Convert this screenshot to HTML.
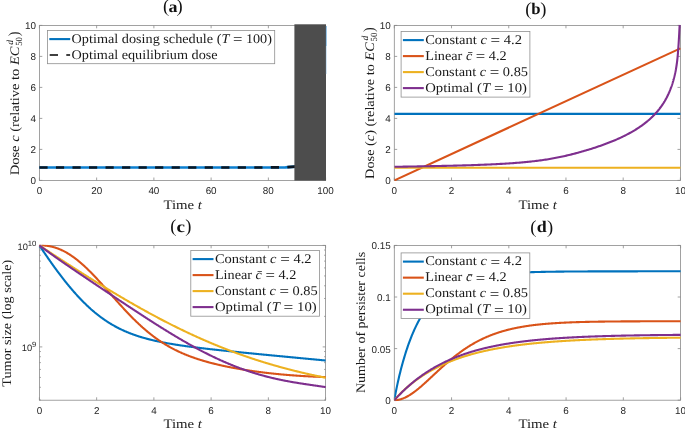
<!DOCTYPE html>
<html><head><meta charset="utf-8"><title>figure</title>
<style>html,body{margin:0;padding:0;background:#fff;overflow:hidden;}svg{display:block;will-change:transform;}</style>
</head><body>
<svg width="685" height="428" viewBox="0 0 685 428" text-rendering="geometricPrecision">
<rect x="0" y="0" width="685" height="428" fill="#ffffff"/>
<rect x="39.4" y="25.4" width="286.20000000000005" height="155.0" fill="#fff" stroke="#8a8a8a" stroke-width="0.8"/>
<path d="M39.40,180.4 v-2.9 M39.40,25.4 v2.9" stroke="#8a8a8a" stroke-width="0.8" fill="none"/>
<text x="39.40" y="194.00" font-family="Liberation Sans, sans-serif" font-size="9.9" text-anchor="middle" fill="#262626">0</text>
<path d="M96.64,180.4 v-2.9 M96.64,25.4 v2.9" stroke="#8a8a8a" stroke-width="0.8" fill="none"/>
<text x="96.64" y="194.00" font-family="Liberation Sans, sans-serif" font-size="9.9" text-anchor="middle" fill="#262626">20</text>
<path d="M153.88,180.4 v-2.9 M153.88,25.4 v2.9" stroke="#8a8a8a" stroke-width="0.8" fill="none"/>
<text x="153.88" y="194.00" font-family="Liberation Sans, sans-serif" font-size="9.9" text-anchor="middle" fill="#262626">40</text>
<path d="M211.12,180.4 v-2.9 M211.12,25.4 v2.9" stroke="#8a8a8a" stroke-width="0.8" fill="none"/>
<text x="211.12" y="194.00" font-family="Liberation Sans, sans-serif" font-size="9.9" text-anchor="middle" fill="#262626">60</text>
<path d="M268.36,180.4 v-2.9 M268.36,25.4 v2.9" stroke="#8a8a8a" stroke-width="0.8" fill="none"/>
<text x="268.36" y="194.00" font-family="Liberation Sans, sans-serif" font-size="9.9" text-anchor="middle" fill="#262626">80</text>
<path d="M325.60,180.4 v-2.9 M325.60,25.4 v2.9" stroke="#8a8a8a" stroke-width="0.8" fill="none"/>
<text x="325.60" y="194.00" font-family="Liberation Sans, sans-serif" font-size="9.9" text-anchor="middle" fill="#262626">100</text>
<path d="M39.4,180.40 h2.9 M325.6,180.40 h-2.9" stroke="#8a8a8a" stroke-width="0.8" fill="none"/>
<text x="35.90" y="184.45" font-family="Liberation Sans, sans-serif" font-size="9.9" text-anchor="end" fill="#262626">0</text>
<path d="M39.4,149.40 h2.9 M325.6,149.40 h-2.9" stroke="#8a8a8a" stroke-width="0.8" fill="none"/>
<text x="35.90" y="153.45" font-family="Liberation Sans, sans-serif" font-size="9.9" text-anchor="end" fill="#262626">2</text>
<path d="M39.4,118.40 h2.9 M325.6,118.40 h-2.9" stroke="#8a8a8a" stroke-width="0.8" fill="none"/>
<text x="35.90" y="122.45" font-family="Liberation Sans, sans-serif" font-size="9.9" text-anchor="end" fill="#262626">4</text>
<path d="M39.4,87.40 h2.9 M325.6,87.40 h-2.9" stroke="#8a8a8a" stroke-width="0.8" fill="none"/>
<text x="35.90" y="91.45" font-family="Liberation Sans, sans-serif" font-size="9.9" text-anchor="end" fill="#262626">6</text>
<path d="M39.4,56.40 h2.9 M325.6,56.40 h-2.9" stroke="#8a8a8a" stroke-width="0.8" fill="none"/>
<text x="35.90" y="60.45" font-family="Liberation Sans, sans-serif" font-size="9.9" text-anchor="end" fill="#262626">8</text>
<path d="M39.4,25.40 h2.9 M325.6,25.40 h-2.9" stroke="#8a8a8a" stroke-width="0.8" fill="none"/>
<text x="35.90" y="29.45" font-family="Liberation Sans, sans-serif" font-size="9.9" text-anchor="end" fill="#262626">10</text>
<path d="M39.40,167.50 L268.36,167.50 L285.53,167.30 L295.55,166.70" fill="none" stroke="#0b7fd0" stroke-width="2.7" stroke-linejoin="round" />
<path d="M39.40,167.50 L268.36,167.50 L285.53,167.30 L295.55,166.70" fill="none" stroke="#0a1622" stroke-width="2.7" stroke-linejoin="round" stroke-dasharray="8.2,8.33"/>
<rect x="294.4" y="24.3" width="31.60" height="156.30" fill="#4d4d4d"/>
<path d="M326.3,26 V46" stroke="#4a9ad4" stroke-width="0.7" fill="none"/><path d="M326.3,46 V74" stroke="#9cc4e4" stroke-width="0.6" fill="none"/>
<text x="163.00" y="12.00" font-family="Liberation Serif, serif" font-size="18.5" fill="#111" text-anchor="start">(</text>
<text x="182.60" y="12.00" font-family="Liberation Serif, serif" font-size="18.5" fill="#111" text-anchor="end">)</text>
<text x="168.60" y="11.50" font-family="Liberation Serif, serif" font-size="16.2" font-weight="bold" fill="#111" text-anchor="start" textLength="9.00" lengthAdjust="spacingAndGlyphs">a</text>
<text x="163.40" y="208.70" font-family="Liberation Serif, serif" font-size="13.0" text-anchor="start" fill="#1a1a1a"  textLength="38.60" lengthAdjust="spacingAndGlyphs">Time <tspan font-style="italic">t</tspan></text>
<g transform="translate(18.9,175.2) rotate(-90)">
<text x="0.00" y="0.00" font-family="Liberation Serif, serif" font-size="13.0" text-anchor="start" fill="#1a1a1a"  textLength="128.60" lengthAdjust="spacingAndGlyphs">Dose <tspan font-style="italic">c</tspan> (relative to <tspan font-style="italic">EC</tspan></text>
<text x="129.40" y="3.30" font-family="Liberation Serif, serif" font-size="9.4" text-anchor="start" fill="#1a1a1a"  textLength="8.80" lengthAdjust="spacingAndGlyphs">50</text>
<text x="130.40" y="-5.60" font-family="Liberation Serif, serif" font-size="9.2" text-anchor="start" fill="#1a1a1a"  textLength="4.80" lengthAdjust="spacingAndGlyphs"><tspan font-style="italic">d</tspan></text>
<text x="139.00" y="-0.20" font-family="Liberation Serif, serif" font-size="15.5" text-anchor="start" fill="#1a1a1a"  textLength="4.60" lengthAdjust="spacingAndGlyphs">)</text>
</g>
<rect x="47.5" y="30.4" width="227.2" height="33.300000000000004" fill="#fff" stroke="#8f8f8f" stroke-width="0.8"/>
<path d="M49.3,39.10 h20.9" stroke="#0072bd" stroke-width="2.1" fill="none"/>
<text x="71.60" y="42.60" font-family="Liberation Serif, serif" font-size="13.2" text-anchor="start" fill="#1a1a1a"  textLength="200.40" lengthAdjust="spacingAndGlyphs">Optimal dosing schedule (<tspan font-style="italic">T</tspan> <tspan font-size="15.5" dy="1.5">=</tspan><tspan dy="-1.5"> </tspan>100)</text>
<path d="M49.7,55.00 h8.3 M66.3,55.00 h3.8" stroke="#404040" stroke-width="2.0" fill="none"/>
<text x="71.60" y="58.50" font-family="Liberation Serif, serif" font-size="13.2" text-anchor="start" fill="#1a1a1a"  textLength="146.00" lengthAdjust="spacingAndGlyphs">Optimal equilibrium dose</text>
<rect x="394.3" y="25.4" width="286.09999999999997" height="155.0" fill="#fff" stroke="#8a8a8a" stroke-width="0.8"/>
<path d="M394.30,180.4 v-2.9 M394.30,25.4 v2.9" stroke="#8a8a8a" stroke-width="0.8" fill="none"/>
<text x="394.30" y="194.00" font-family="Liberation Sans, sans-serif" font-size="9.9" text-anchor="middle" fill="#262626">0</text>
<path d="M451.52,180.4 v-2.9 M451.52,25.4 v2.9" stroke="#8a8a8a" stroke-width="0.8" fill="none"/>
<text x="451.52" y="194.00" font-family="Liberation Sans, sans-serif" font-size="9.9" text-anchor="middle" fill="#262626">2</text>
<path d="M508.74,180.4 v-2.9 M508.74,25.4 v2.9" stroke="#8a8a8a" stroke-width="0.8" fill="none"/>
<text x="508.74" y="194.00" font-family="Liberation Sans, sans-serif" font-size="9.9" text-anchor="middle" fill="#262626">4</text>
<path d="M565.96,180.4 v-2.9 M565.96,25.4 v2.9" stroke="#8a8a8a" stroke-width="0.8" fill="none"/>
<text x="565.96" y="194.00" font-family="Liberation Sans, sans-serif" font-size="9.9" text-anchor="middle" fill="#262626">6</text>
<path d="M623.18,180.4 v-2.9 M623.18,25.4 v2.9" stroke="#8a8a8a" stroke-width="0.8" fill="none"/>
<text x="623.18" y="194.00" font-family="Liberation Sans, sans-serif" font-size="9.9" text-anchor="middle" fill="#262626">8</text>
<path d="M680.40,180.4 v-2.9 M680.40,25.4 v2.9" stroke="#8a8a8a" stroke-width="0.8" fill="none"/>
<text x="680.40" y="194.00" font-family="Liberation Sans, sans-serif" font-size="9.9" text-anchor="middle" fill="#262626">10</text>
<path d="M394.3,180.40 h2.9 M680.4,180.40 h-2.9" stroke="#8a8a8a" stroke-width="0.8" fill="none"/>
<text x="390.80" y="184.45" font-family="Liberation Sans, sans-serif" font-size="9.9" text-anchor="end" fill="#262626">0</text>
<path d="M394.3,149.40 h2.9 M680.4,149.40 h-2.9" stroke="#8a8a8a" stroke-width="0.8" fill="none"/>
<text x="390.80" y="153.45" font-family="Liberation Sans, sans-serif" font-size="9.9" text-anchor="end" fill="#262626">2</text>
<path d="M394.3,118.40 h2.9 M680.4,118.40 h-2.9" stroke="#8a8a8a" stroke-width="0.8" fill="none"/>
<text x="390.80" y="122.45" font-family="Liberation Sans, sans-serif" font-size="9.9" text-anchor="end" fill="#262626">4</text>
<path d="M394.3,87.40 h2.9 M680.4,87.40 h-2.9" stroke="#8a8a8a" stroke-width="0.8" fill="none"/>
<text x="390.80" y="91.45" font-family="Liberation Sans, sans-serif" font-size="9.9" text-anchor="end" fill="#262626">6</text>
<path d="M394.3,56.40 h2.9 M680.4,56.40 h-2.9" stroke="#8a8a8a" stroke-width="0.8" fill="none"/>
<text x="390.80" y="60.45" font-family="Liberation Sans, sans-serif" font-size="9.9" text-anchor="end" fill="#262626">8</text>
<path d="M394.3,25.40 h2.9 M680.4,25.40 h-2.9" stroke="#8a8a8a" stroke-width="0.8" fill="none"/>
<text x="390.80" y="29.45" font-family="Liberation Sans, sans-serif" font-size="9.9" text-anchor="end" fill="#262626">10</text>
<clipPath id="cb"><rect x="394.3" y="24.9" width="286.9" height="156.0"/></clipPath><g clip-path="url(#cb)">
<path d="M394.30,113.91 L680.40,113.91" fill="none" stroke="#0072bd" stroke-width="2.1" stroke-linejoin="round" />
<path d="M394.30,180.40 L680.40,48.34" fill="none" stroke="#d95319" stroke-width="2.1" stroke-linejoin="round" />
<path d="M394.30,167.69 L680.40,167.69" fill="none" stroke="#edb120" stroke-width="2.1" stroke-linejoin="round" />
<path d="M394.30,166.82 L395.59,166.79 L396.89,166.77 L398.18,166.75 L399.48,166.73 L400.77,166.70 L402.06,166.68 L403.36,166.66 L404.65,166.64 L405.95,166.61 L407.24,166.59 L408.53,166.57 L409.83,166.54 L411.12,166.52 L412.41,166.50 L413.71,166.47 L415.00,166.45 L416.30,166.43 L417.59,166.40 L418.88,166.38 L420.18,166.36 L421.47,166.33 L422.77,166.31 L424.06,166.29 L425.35,166.26 L426.65,166.24 L427.94,166.21 L429.24,166.19 L430.53,166.16 L431.82,166.14 L433.12,166.11 L434.41,166.08 L435.71,166.06 L437.00,166.03 L438.29,166.00 L439.59,165.98 L440.88,165.95 L442.18,165.92 L443.47,165.89 L444.76,165.86 L446.06,165.83 L447.35,165.80 L448.64,165.77 L449.94,165.74 L451.23,165.71 L452.53,165.68 L453.82,165.65 L455.11,165.62 L456.41,165.58 L457.70,165.55 L459.00,165.52 L460.29,165.48 L461.58,165.44 L462.88,165.41 L464.17,165.37 L465.47,165.33 L466.76,165.30 L468.05,165.26 L469.35,165.22 L470.64,165.18 L471.94,165.13 L473.23,165.09 L474.52,165.05 L475.82,165.00 L477.11,164.96 L478.40,164.91 L479.70,164.86 L480.99,164.81 L482.29,164.76 L483.58,164.71 L484.87,164.66 L486.17,164.61 L487.46,164.55 L488.76,164.50 L490.05,164.44 L491.34,164.38 L492.64,164.32 L493.93,164.26 L495.23,164.19 L496.52,164.13 L497.81,164.06 L499.11,163.99 L500.40,163.92 L501.70,163.85 L502.99,163.77 L504.28,163.70 L505.58,163.62 L506.87,163.54 L508.16,163.45 L509.46,163.37 L510.75,163.28 L512.05,163.19 L513.34,163.10 L514.63,163.00 L515.93,162.90 L517.22,162.80 L518.52,162.70 L519.81,162.59 L521.10,162.48 L522.40,162.37 L523.69,162.25 L524.99,162.13 L526.28,162.01 L527.57,161.88 L528.87,161.75 L530.16,161.61 L531.46,161.47 L532.75,161.33 L534.04,161.18 L535.34,161.03 L536.63,160.87 L537.93,160.71 L539.22,160.55 L540.51,160.37 L541.81,160.20 L543.10,160.01 L544.39,159.83 L545.69,159.63 L546.98,159.43 L548.28,159.22 L549.57,159.01 L550.86,158.79 L552.16,158.56 L553.45,158.33 L554.75,158.09 L556.04,157.84 L557.33,157.59 L558.63,157.33 L559.92,157.06 L561.22,156.78 L562.51,156.50 L563.80,156.22 L565.10,155.92 L566.39,155.62 L567.69,155.32 L568.98,155.01 L570.27,154.69 L571.57,154.36 L572.86,154.04 L574.15,153.70 L575.45,153.36 L576.74,153.01 L578.04,152.66 L579.33,152.31 L580.62,151.95 L581.92,151.58 L583.21,151.21 L584.51,150.84 L585.80,150.46 L587.09,150.08 L588.39,149.69 L589.68,149.29 L590.98,148.89 L592.27,148.48 L593.56,148.07 L594.86,147.65 L596.15,147.23 L597.45,146.79 L598.74,146.36 L600.03,145.91 L601.33,145.46 L602.62,145.00 L603.91,144.53 L605.21,144.05 L606.50,143.57 L607.80,143.08 L609.09,142.58 L610.38,142.06 L611.68,141.55 L612.97,141.02 L614.27,140.48 L615.56,139.93 L616.85,139.36 L618.15,138.79 L619.44,138.21 L620.74,137.61 L622.03,137.00 L623.32,136.38 L624.62,135.74 L625.91,135.09 L627.21,134.42 L628.50,133.74 L629.79,133.04 L631.09,132.32 L632.38,131.58 L633.68,130.82 L634.97,130.05 L636.26,129.25 L637.56,128.42 L638.85,127.58 L640.14,126.70 L641.44,125.80 L642.73,124.87 L644.03,123.91 L645.32,122.91 L646.61,121.88 L647.91,120.81 L649.20,119.69 L650.50,118.53 L651.79,117.33 L651.88,117.23 L651.98,117.14 L652.07,117.05 L652.17,116.96 L652.26,116.87 L652.36,116.78 L652.45,116.68 L652.55,116.59 L652.64,116.50 L652.74,116.41 L652.83,116.31 L652.93,116.22 L653.02,116.12 L653.12,116.03 L653.21,115.94 L653.31,115.84 L653.40,115.74 L653.50,115.65 L653.59,115.55 L653.68,115.46 L653.78,115.36 L653.87,115.26 L653.97,115.17 L654.06,115.07 L654.16,114.97 L654.25,114.87 L654.35,114.77 L654.44,114.67 L654.54,114.57 L654.63,114.47 L654.73,114.37 L654.82,114.27 L654.92,114.17 L655.01,114.07 L655.11,113.97 L655.20,113.87 L655.29,113.77 L655.39,113.66 L655.48,113.56 L655.58,113.46 L655.67,113.35 L655.77,113.25 L655.86,113.14 L655.96,113.04 L656.05,112.93 L656.15,112.83 L656.24,112.72 L656.34,112.62 L656.43,112.51 L656.53,112.40 L656.62,112.29 L656.72,112.19 L656.81,112.08 L656.91,111.97 L657.00,111.86 L657.09,111.75 L657.19,111.64 L657.28,111.53 L657.38,111.42 L657.47,111.30 L657.57,111.19 L657.66,111.08 L657.76,110.97 L657.85,110.85 L657.95,110.74 L658.04,110.63 L658.14,110.51 L658.23,110.40 L658.33,110.28 L658.42,110.16 L658.52,110.05 L658.61,109.93 L658.71,109.81 L658.80,109.69 L658.89,109.58 L658.99,109.46 L659.08,109.34 L659.18,109.22 L659.27,109.10 L659.37,108.98 L659.46,108.85 L659.56,108.73 L659.65,108.61 L659.75,108.49 L659.84,108.36 L659.94,108.24 L660.03,108.11 L660.13,107.99 L660.22,107.86 L660.32,107.74 L660.41,107.61 L660.51,107.48 L660.60,107.35 L660.69,107.22 L660.79,107.09 L660.88,106.96 L660.98,106.83 L661.07,106.70 L661.17,106.57 L661.26,106.44 L661.36,106.30 L661.45,106.17 L661.55,106.04 L661.64,105.90 L661.74,105.77 L661.83,105.63 L661.93,105.49 L662.02,105.35 L662.12,105.22 L662.21,105.08 L662.30,104.94 L662.40,104.80 L662.49,104.66 L662.59,104.51 L662.68,104.37 L662.78,104.23 L662.87,104.09 L662.97,103.94 L663.06,103.80 L663.16,103.65 L663.25,103.50 L663.35,103.35 L663.44,103.21 L663.54,103.06 L663.63,102.91 L663.73,102.76 L663.82,102.60 L663.92,102.45 L664.01,102.30 L664.10,102.14 L664.20,101.99 L664.29,101.83 L664.39,101.68 L664.48,101.52 L664.58,101.36 L664.67,101.20 L664.77,101.04 L664.86,100.88 L664.96,100.72 L665.05,100.55 L665.15,100.39 L665.24,100.22 L665.34,100.06 L665.43,99.89 L665.53,99.72 L665.62,99.55 L665.72,99.38 L665.81,99.21 L665.90,99.04 L666.00,98.87 L666.09,98.69 L666.19,98.52 L666.28,98.34 L666.38,98.17 L666.47,97.99 L666.57,97.81 L666.66,97.63 L666.76,97.44 L666.85,97.26 L666.95,97.08 L667.04,96.89 L667.14,96.70 L667.23,96.51 L667.33,96.33 L667.42,96.13 L667.51,95.94 L667.61,95.75 L667.70,95.55 L667.80,95.36 L667.89,95.16 L667.99,94.96 L668.08,94.76 L668.18,94.56 L668.27,94.36 L668.37,94.15 L668.46,93.95 L668.56,93.74 L668.65,93.53 L668.75,93.32 L668.84,93.11 L668.94,92.89 L669.03,92.68 L669.13,92.46 L669.22,92.24 L669.31,92.02 L669.41,91.80 L669.50,91.57 L669.60,91.35 L669.69,91.12 L669.79,90.89 L669.88,90.66 L669.98,90.42 L670.07,90.19 L670.17,89.95 L670.26,89.71 L670.36,89.47 L670.45,89.22 L670.55,88.98 L670.64,88.73 L670.74,88.48 L670.83,88.22 L670.93,87.97 L671.02,87.71 L671.11,87.45 L671.21,87.19 L671.30,86.93 L671.40,86.66 L671.49,86.39 L671.59,86.12 L671.68,85.84 L671.78,85.56 L671.87,85.28 L671.97,85.00 L672.06,84.71 L672.16,84.42 L672.25,84.13 L672.35,83.83 L672.44,83.53 L672.54,83.23 L672.63,82.93 L672.73,82.62 L672.82,82.31 L672.91,81.99 L673.01,81.67 L673.10,81.35 L673.20,81.02 L673.29,80.69 L673.39,80.35 L673.48,80.01 L673.58,79.67 L673.67,79.32 L673.77,78.97 L673.86,78.62 L673.96,78.25 L674.05,77.89 L674.15,77.52 L674.24,77.14 L674.34,76.76 L674.43,76.37 L674.52,75.98 L674.62,75.58 L674.71,75.18 L674.81,74.77 L674.90,74.35 L675.00,73.93 L675.09,73.49 L675.19,73.05 L675.28,72.60 L675.38,72.14 L675.47,71.68 L675.57,71.20 L675.66,70.71 L675.76,70.21 L675.85,69.70 L675.95,69.18 L676.04,68.64 L676.14,68.09 L676.23,67.53 L676.32,66.94 L676.42,66.35 L676.51,65.73 L676.61,65.09 L676.70,64.44 L676.80,63.76 L676.89,63.06 L676.99,62.33 L677.08,61.58 L677.18,60.80 L677.27,59.98 L677.37,59.13 L677.46,58.25 L677.56,57.32 L677.65,56.36 L677.75,55.35 L677.84,54.29 L677.94,53.19 L678.03,52.04 L678.12,50.84 L678.22,49.60 L678.31,48.30 L678.41,46.95 L678.50,45.54 L678.60,44.09 L678.69,42.57 L678.79,41.01 L678.88,39.39 L678.98,37.73 L679.07,36.01 L679.17,34.26 L679.26,32.47 L679.36,30.67 L679.45,28.85 L679.55,27.05 L679.64,25.30 L679.73,23.63 L679.83,22.13 L679.92,20.86 L680.02,19.97 L680.11,19.66" fill="none" stroke="#7e2f8e" stroke-width="2.1" stroke-linejoin="round" />
</g>
<text x="525.20" y="14.70" font-family="Liberation Serif, serif" font-size="18.5" fill="#111" text-anchor="start">(</text>
<text x="546.40" y="14.70" font-family="Liberation Serif, serif" font-size="18.5" fill="#111" text-anchor="end">)</text>
<text x="531.20" y="14.20" font-family="Liberation Serif, serif" font-size="16.2" font-weight="bold" fill="#111" text-anchor="start" textLength="9.30" lengthAdjust="spacingAndGlyphs">b</text>
<text x="518.40" y="208.70" font-family="Liberation Serif, serif" font-size="13.0" text-anchor="start" fill="#1a1a1a"  textLength="38.60" lengthAdjust="spacingAndGlyphs">Time <tspan font-style="italic">t</tspan></text>
<g transform="translate(373.9,178.9) rotate(-90)">
<text x="0.00" y="0.00" font-family="Liberation Serif, serif" font-size="13.0" text-anchor="start" fill="#1a1a1a"  textLength="136.60" lengthAdjust="spacingAndGlyphs">Dose (<tspan font-style="italic">c</tspan>) (relative to <tspan font-style="italic">EC</tspan></text>
<text x="137.40" y="3.30" font-family="Liberation Serif, serif" font-size="9.4" text-anchor="start" fill="#1a1a1a"  textLength="8.80" lengthAdjust="spacingAndGlyphs">50</text>
<text x="138.40" y="-5.60" font-family="Liberation Serif, serif" font-size="9.2" text-anchor="start" fill="#1a1a1a"  textLength="4.80" lengthAdjust="spacingAndGlyphs"><tspan font-style="italic">d</tspan></text>
<text x="147.00" y="-0.20" font-family="Liberation Serif, serif" font-size="15.5" text-anchor="start" fill="#1a1a1a"  textLength="4.60" lengthAdjust="spacingAndGlyphs">)</text>
</g>
<rect x="401.1" y="31.5" width="128.79999999999995" height="65.6" fill="#fff" stroke="#8f8f8f" stroke-width="0.8"/>
<path d="M402.90000000000003,40.10 h20.9" stroke="#0072bd" stroke-width="2.1" fill="none"/>
<text x="425.20" y="43.60" font-family="Liberation Serif, serif" font-size="13.2" text-anchor="start" fill="#1a1a1a"  textLength="96.70" lengthAdjust="spacingAndGlyphs">Constant <tspan font-style="italic">c</tspan> <tspan font-size="15.5" dy="1.5">=</tspan><tspan dy="-1.5"> </tspan>4.2</text>
<path d="M402.90000000000003,56.10 h20.9" stroke="#d95319" stroke-width="2.1" fill="none"/>
<text x="425.20" y="59.60" font-family="Liberation Serif, serif" font-size="13.2" text-anchor="start" fill="#1a1a1a"  textLength="81.40" lengthAdjust="spacingAndGlyphs">Linear <tspan font-style="italic">c&#x0304;</tspan> <tspan font-size="15.5" dy="1.5">=</tspan><tspan dy="-1.5"> </tspan>4.2</text>
<path d="M402.90000000000003,72.10 h20.9" stroke="#edb120" stroke-width="2.1" fill="none"/>
<text x="425.20" y="75.60" font-family="Liberation Serif, serif" font-size="13.2" text-anchor="start" fill="#1a1a1a"  textLength="102.80" lengthAdjust="spacingAndGlyphs">Constant <tspan font-style="italic">c</tspan> <tspan font-size="15.5" dy="1.5">=</tspan><tspan dy="-1.5"> </tspan>0.85</text>
<path d="M402.90000000000003,88.10 h20.9" stroke="#7e2f8e" stroke-width="2.1" fill="none"/>
<text x="425.20" y="91.60" font-family="Liberation Serif, serif" font-size="13.2" text-anchor="start" fill="#1a1a1a"  textLength="101.80" lengthAdjust="spacingAndGlyphs">Optimal (<tspan font-style="italic">T</tspan> <tspan font-size="15.5" dy="1.5">=</tspan><tspan dy="-1.5"> </tspan>10)</text>
<rect x="39.4" y="245.4" width="286.20000000000005" height="154.79999999999998" fill="#fff" stroke="#8a8a8a" stroke-width="0.8"/>
<path d="M39.40,400.2 v-2.9 M39.40,245.4 v2.9" stroke="#8a8a8a" stroke-width="0.8" fill="none"/>
<text x="39.40" y="413.80" font-family="Liberation Sans, sans-serif" font-size="9.9" text-anchor="middle" fill="#262626">0</text>
<path d="M96.64,400.2 v-2.9 M96.64,245.4 v2.9" stroke="#8a8a8a" stroke-width="0.8" fill="none"/>
<text x="96.64" y="413.80" font-family="Liberation Sans, sans-serif" font-size="9.9" text-anchor="middle" fill="#262626">2</text>
<path d="M153.88,400.2 v-2.9 M153.88,245.4 v2.9" stroke="#8a8a8a" stroke-width="0.8" fill="none"/>
<text x="153.88" y="413.80" font-family="Liberation Sans, sans-serif" font-size="9.9" text-anchor="middle" fill="#262626">4</text>
<path d="M211.12,400.2 v-2.9 M211.12,245.4 v2.9" stroke="#8a8a8a" stroke-width="0.8" fill="none"/>
<text x="211.12" y="413.80" font-family="Liberation Sans, sans-serif" font-size="9.9" text-anchor="middle" fill="#262626">6</text>
<path d="M268.36,400.2 v-2.9 M268.36,245.4 v2.9" stroke="#8a8a8a" stroke-width="0.8" fill="none"/>
<text x="268.36" y="413.80" font-family="Liberation Sans, sans-serif" font-size="9.9" text-anchor="middle" fill="#262626">8</text>
<path d="M325.60,400.2 v-2.9 M325.60,245.4 v2.9" stroke="#8a8a8a" stroke-width="0.8" fill="none"/>
<text x="325.60" y="413.80" font-family="Liberation Sans, sans-serif" font-size="9.9" text-anchor="middle" fill="#262626">10</text>
<path d="M39.4,245.40 h2.9 M325.6,245.40 h-2.9" stroke="#8a8a8a" stroke-width="0.8" fill="none"/>
<text x="36.40" y="249.80" font-family="Liberation Sans, sans-serif" font-size="9.3" text-anchor="end" fill="#262626">10<tspan font-size="7.7" dy="-3.9">10</tspan></text>
<path d="M39.4,346.90 h2.9 M325.6,346.90 h-2.9" stroke="#8a8a8a" stroke-width="0.8" fill="none"/>
<text x="36.40" y="351.30" font-family="Liberation Sans, sans-serif" font-size="9.3" text-anchor="end" fill="#262626">10<tspan font-size="7.7" dy="-3.9">9</tspan></text>
<path d="M39.4,399.97 h1.5 M325.6,399.97 h-1.5" stroke="#8a8a8a" stroke-width="0.8" fill="none"/>
<path d="M39.4,387.29 h1.5 M325.6,387.29 h-1.5" stroke="#8a8a8a" stroke-width="0.8" fill="none"/>
<path d="M39.4,377.45 h1.5 M325.6,377.45 h-1.5" stroke="#8a8a8a" stroke-width="0.8" fill="none"/>
<path d="M39.4,369.42 h1.5 M325.6,369.42 h-1.5" stroke="#8a8a8a" stroke-width="0.8" fill="none"/>
<path d="M39.4,362.62 h1.5 M325.6,362.62 h-1.5" stroke="#8a8a8a" stroke-width="0.8" fill="none"/>
<path d="M39.4,356.74 h1.5 M325.6,356.74 h-1.5" stroke="#8a8a8a" stroke-width="0.8" fill="none"/>
<path d="M39.4,351.54 h1.5 M325.6,351.54 h-1.5" stroke="#8a8a8a" stroke-width="0.8" fill="none"/>
<path d="M39.4,316.35 h1.5 M325.6,316.35 h-1.5" stroke="#8a8a8a" stroke-width="0.8" fill="none"/>
<path d="M39.4,298.47 h1.5 M325.6,298.47 h-1.5" stroke="#8a8a8a" stroke-width="0.8" fill="none"/>
<path d="M39.4,285.79 h1.5 M325.6,285.79 h-1.5" stroke="#8a8a8a" stroke-width="0.8" fill="none"/>
<path d="M39.4,275.95 h1.5 M325.6,275.95 h-1.5" stroke="#8a8a8a" stroke-width="0.8" fill="none"/>
<path d="M39.4,267.92 h1.5 M325.6,267.92 h-1.5" stroke="#8a8a8a" stroke-width="0.8" fill="none"/>
<path d="M39.4,261.12 h1.5 M325.6,261.12 h-1.5" stroke="#8a8a8a" stroke-width="0.8" fill="none"/>
<path d="M39.4,255.24 h1.5 M325.6,255.24 h-1.5" stroke="#8a8a8a" stroke-width="0.8" fill="none"/>
<path d="M39.4,250.04 h1.5 M325.6,250.04 h-1.5" stroke="#8a8a8a" stroke-width="0.8" fill="none"/>
<clipPath id="cc"><rect x="38.9" y="244.8" width="287.40000000000003" height="155.79999999999998"/></clipPath><g clip-path="url(#cc)">
<path d="M39.40,245.40 L39.88,246.12 L40.36,246.84 L40.83,247.55 L41.31,248.27 L41.79,248.98 L42.27,249.69 L42.74,250.40 L43.22,251.11 L43.70,251.82 L44.18,252.52 L44.66,253.23 L45.13,253.93 L45.61,254.63 L46.09,255.32 L46.57,256.02 L47.04,256.71 L47.52,257.40 L48.00,258.09 L48.48,258.78 L48.96,259.46 L49.43,260.15 L49.91,260.83 L50.39,261.51 L50.87,262.18 L51.34,262.86 L51.82,263.53 L52.30,264.20 L52.78,264.87 L53.26,265.53 L53.73,266.20 L54.21,266.86 L54.69,267.51 L55.17,268.17 L55.65,268.83 L56.12,269.48 L56.60,270.13 L57.08,270.77 L57.56,271.42 L58.03,272.06 L58.51,272.70 L58.99,273.33 L59.47,273.97 L59.95,274.60 L60.42,275.23 L60.90,275.85 L61.38,276.48 L61.86,277.10 L62.33,277.72 L62.81,278.33 L63.29,278.95 L63.77,279.56 L64.25,280.16 L64.72,280.77 L65.20,281.37 L65.68,281.97 L66.16,282.56 L66.63,283.16 L67.11,283.75 L67.59,284.33 L68.07,284.92 L68.55,285.50 L69.02,286.08 L69.50,286.65 L69.98,287.23 L70.46,287.79 L70.93,288.36 L71.41,288.92 L71.89,289.48 L72.37,290.04 L72.85,290.59 L73.32,291.14 L73.80,291.69 L74.28,292.24 L74.76,292.78 L75.23,293.31 L75.71,293.85 L76.19,294.38 L76.67,294.91 L77.15,295.43 L77.62,295.95 L78.10,296.47 L78.58,296.99 L79.06,297.50 L79.53,298.00 L80.01,298.51 L80.49,299.01 L80.97,299.51 L81.45,300.00 L81.92,300.49 L82.40,300.98 L82.88,301.47 L83.36,301.95 L83.84,302.43 L84.31,302.90 L84.79,303.37 L85.27,303.84 L85.75,304.30 L86.22,304.76 L86.70,305.22 L87.18,305.67 L87.66,306.12 L88.14,306.57 L88.61,307.01 L89.09,307.45 L89.57,307.89 L90.05,308.32 L90.52,308.75 L91.00,309.17 L91.48,309.60 L91.96,310.01 L92.44,310.43 L92.91,310.84 L93.39,311.25 L93.87,311.66 L94.35,312.06 L94.82,312.46 L95.30,312.85 L95.78,313.24 L96.26,313.63 L96.74,314.01 L97.21,314.39 L97.69,314.77 L98.17,315.15 L98.65,315.52 L99.12,315.88 L99.60,316.25 L100.08,316.61 L100.56,316.97 L101.04,317.32 L101.51,317.67 L101.99,318.02 L102.47,318.36 L102.95,318.70 L103.42,319.04 L103.90,319.38 L104.38,319.71 L104.86,320.04 L105.34,320.36 L105.81,320.68 L106.29,321.00 L106.77,321.32 L107.25,321.63 L107.72,321.94 L108.20,322.24 L108.68,322.55 L109.16,322.85 L109.64,323.14 L110.11,323.44 L110.59,323.73 L111.07,324.02 L111.55,324.30 L112.03,324.58 L112.50,324.86 L112.98,325.14 L113.46,325.41 L113.94,325.68 L114.41,325.95 L114.89,326.22 L115.37,326.48 L115.85,326.74 L116.33,326.99 L116.80,327.25 L117.28,327.50 L117.76,327.75 L118.24,327.99 L118.71,328.24 L119.19,328.48 L119.67,328.71 L120.15,328.95 L120.63,329.18 L121.10,329.41 L121.58,329.64 L122.06,329.87 L122.54,330.09 L123.01,330.31 L123.49,330.53 L123.97,330.74 L124.45,330.96 L124.93,331.17 L125.40,331.38 L125.88,331.58 L126.36,331.79 L126.84,331.99 L127.31,332.19 L127.79,332.39 L128.27,332.58 L128.75,332.77 L129.23,332.97 L129.70,333.15 L130.18,333.34 L130.66,333.53 L131.14,333.71 L131.61,333.89 L132.09,334.07 L132.57,334.25 L133.05,334.42 L133.53,334.59 L134.00,334.76 L134.48,334.93 L134.96,335.10 L135.44,335.27 L135.91,335.43 L136.39,335.59 L136.87,335.75 L137.35,335.91 L137.83,336.07 L138.30,336.22 L138.78,336.38 L139.26,336.53 L139.74,336.68 L140.22,336.83 L140.69,336.98 L141.17,337.12 L141.65,337.27 L142.13,337.41 L142.60,337.55 L143.08,337.69 L143.56,337.83 L144.04,337.96 L144.52,338.10 L144.99,338.23 L145.47,338.36 L145.95,338.49 L146.43,338.62 L146.90,338.75 L147.38,338.88 L147.86,339.01 L148.34,339.13 L148.82,339.25 L149.29,339.37 L149.77,339.50 L150.25,339.61 L150.73,339.73 L151.20,339.85 L151.68,339.97 L152.16,340.08 L152.64,340.19 L153.12,340.31 L153.59,340.42 L154.07,340.53 L154.55,340.64 L155.03,340.75 L155.50,340.85 L155.98,340.96 L156.46,341.07 L156.94,341.17 L157.42,341.27 L157.89,341.38 L158.37,341.48 L158.85,341.58 L159.33,341.68 L159.80,341.78 L160.28,341.88 L160.76,341.97 L161.24,342.07 L161.72,342.16 L162.19,342.26 L162.67,342.35 L163.15,342.44 L163.63,342.54 L164.10,342.63 L164.58,342.72 L165.06,342.81 L165.54,342.90 L166.02,342.99 L166.49,343.07 L166.97,343.16 L167.45,343.25 L167.93,343.33 L168.41,343.42 L168.88,343.50 L169.36,343.58 L169.84,343.67 L170.32,343.75 L170.79,343.83 L171.27,343.91 L171.75,343.99 L172.23,344.07 L172.71,344.15 L173.18,344.23 L173.66,344.31 L174.14,344.39 L174.62,344.46 L175.09,344.54 L175.57,344.62 L176.05,344.69 L176.53,344.77 L177.01,344.84 L177.48,344.91 L177.96,344.99 L178.44,345.06 L178.92,345.13 L179.39,345.20 L179.87,345.28 L180.35,345.35 L180.83,345.42 L181.31,345.49 L181.78,345.56 L182.26,345.63 L182.74,345.70 L183.22,345.76 L183.69,345.83 L184.17,345.90 L184.65,345.97 L185.13,346.03 L185.61,346.10 L186.08,346.17 L186.56,346.23 L187.04,346.30 L187.52,346.36 L187.99,346.43 L188.47,346.49 L188.95,346.56 L189.43,346.62 L189.91,346.68 L190.38,346.75 L190.86,346.81 L191.34,346.87 L191.82,346.93 L192.29,347.00 L192.77,347.06 L193.25,347.12 L193.73,347.18 L194.21,347.24 L194.68,347.30 L195.16,347.36 L195.64,347.42 L196.12,347.48 L196.59,347.54 L197.07,347.60 L197.55,347.66 L198.03,347.72 L198.51,347.78 L198.98,347.83 L199.46,347.89 L199.94,347.95 L200.42,348.01 L200.90,348.07 L201.37,348.12 L201.85,348.18 L202.33,348.24 L202.81,348.29 L203.28,348.35 L203.76,348.41 L204.24,348.46 L204.72,348.52 L205.20,348.57 L205.67,348.63 L206.15,348.68 L206.63,348.74 L207.11,348.79 L207.58,348.85 L208.06,348.90 L208.54,348.96 L209.02,349.01 L209.50,349.06 L209.97,349.12 L210.45,349.17 L210.93,349.23 L211.41,349.28 L211.88,349.33 L212.36,349.39 L212.84,349.44 L213.32,349.49 L213.80,349.54 L214.27,349.60 L214.75,349.65 L215.23,349.70 L215.71,349.75 L216.18,349.81 L216.66,349.86 L217.14,349.91 L217.62,349.96 L218.10,350.01 L218.57,350.06 L219.05,350.12 L219.53,350.17 L220.01,350.22 L220.48,350.27 L220.96,350.32 L221.44,350.37 L221.92,350.42 L222.40,350.47 L222.87,350.52 L223.35,350.57 L223.83,350.62 L224.31,350.67 L224.78,350.72 L225.26,350.77 L225.74,350.82 L226.22,350.87 L226.70,350.92 L227.17,350.97 L227.65,351.02 L228.13,351.07 L228.61,351.12 L229.09,351.17 L229.56,351.22 L230.04,351.27 L230.52,351.32 L231.00,351.37 L231.47,351.42 L231.95,351.47 L232.43,351.51 L232.91,351.56 L233.39,351.61 L233.86,351.66 L234.34,351.71 L234.82,351.76 L235.30,351.81 L235.77,351.85 L236.25,351.90 L236.73,351.95 L237.21,352.00 L237.69,352.05 L238.16,352.10 L238.64,352.14 L239.12,352.19 L239.60,352.24 L240.07,352.29 L240.55,352.34 L241.03,352.38 L241.51,352.43 L241.99,352.48 L242.46,352.53 L242.94,352.57 L243.42,352.62 L243.90,352.67 L244.37,352.72 L244.85,352.76 L245.33,352.81 L245.81,352.86 L246.29,352.91 L246.76,352.95 L247.24,353.00 L247.72,353.05 L248.20,353.09 L248.67,353.14 L249.15,353.19 L249.63,353.24 L250.11,353.28 L250.59,353.33 L251.06,353.38 L251.54,353.42 L252.02,353.47 L252.50,353.52 L252.97,353.56 L253.45,353.61 L253.93,353.66 L254.41,353.70 L254.89,353.75 L255.36,353.80 L255.84,353.84 L256.32,353.89 L256.80,353.94 L257.28,353.98 L257.75,354.03 L258.23,354.08 L258.71,354.12 L259.19,354.17 L259.66,354.22 L260.14,354.26 L260.62,354.31 L261.10,354.36 L261.58,354.40 L262.05,354.45 L262.53,354.49 L263.01,354.54 L263.49,354.59 L263.96,354.63 L264.44,354.68 L264.92,354.73 L265.40,354.77 L265.88,354.82 L266.35,354.86 L266.83,354.91 L267.31,354.96 L267.79,355.00 L268.26,355.05 L268.74,355.09 L269.22,355.14 L269.70,355.19 L270.18,355.23 L270.65,355.28 L271.13,355.32 L271.61,355.37 L272.09,355.42 L272.56,355.46 L273.04,355.51 L273.52,355.55 L274.00,355.60 L274.48,355.64 L274.95,355.69 L275.43,355.74 L275.91,355.78 L276.39,355.83 L276.86,355.87 L277.34,355.92 L277.82,355.96 L278.30,356.01 L278.78,356.06 L279.25,356.10 L279.73,356.15 L280.21,356.19 L280.69,356.24 L281.16,356.28 L281.64,356.33 L282.12,356.38 L282.60,356.42 L283.08,356.47 L283.55,356.51 L284.03,356.56 L284.51,356.60 L284.99,356.65 L285.47,356.69 L285.94,356.74 L286.42,356.79 L286.90,356.83 L287.38,356.88 L287.85,356.92 L288.33,356.97 L288.81,357.01 L289.29,357.06 L289.77,357.10 L290.24,357.15 L290.72,357.20 L291.20,357.24 L291.68,357.29 L292.15,357.33 L292.63,357.38 L293.11,357.42 L293.59,357.47 L294.07,357.51 L294.54,357.56 L295.02,357.60 L295.50,357.65 L295.98,357.69 L296.45,357.74 L296.93,357.79 L297.41,357.83 L297.89,357.88 L298.37,357.92 L298.84,357.97 L299.32,358.01 L299.80,358.06 L300.28,358.10 L300.75,358.15 L301.23,358.19 L301.71,358.24 L302.19,358.28 L302.67,358.33 L303.14,358.37 L303.62,358.42 L304.10,358.46 L304.58,358.51 L305.05,358.55 L305.53,358.60 L306.01,358.65 L306.49,358.69 L306.97,358.74 L307.44,358.78 L307.92,358.83 L308.40,358.87 L308.88,358.92 L309.35,358.96 L309.83,359.01 L310.31,359.05 L310.79,359.10 L311.27,359.14 L311.74,359.19 L312.22,359.23 L312.70,359.28 L313.18,359.32 L313.66,359.37 L314.13,359.41 L314.61,359.46 L315.09,359.50 L315.57,359.55 L316.04,359.59 L316.52,359.64 L317.00,359.68 L317.48,359.73 L317.96,359.78 L318.43,359.82 L318.91,359.87 L319.39,359.91 L319.87,359.96 L320.34,360.00 L320.82,360.05 L321.30,360.09 L321.78,360.14 L322.26,360.18 L322.73,360.23 L323.21,360.27 L323.69,360.32 L324.17,360.36 L324.64,360.41 L325.12,360.45 L325.60,360.50" fill="none" stroke="#0072bd" stroke-width="2.1" stroke-linejoin="round" />
<path d="M39.40,244.68 L39.88,243.95 L40.36,243.09 L40.83,242.45 L41.31,242.40 L41.79,242.95 L42.27,243.81 L42.74,244.59 L43.22,245.10 L43.70,245.36 L44.18,245.47 L44.66,245.54 L45.13,245.58 L45.61,245.63 L46.09,245.68 L46.57,245.74 L47.04,245.80 L47.52,245.86 L48.00,245.94 L48.48,246.01 L48.96,246.09 L49.43,246.18 L49.91,246.27 L50.39,246.36 L50.87,246.46 L51.34,246.57 L51.82,246.68 L52.30,246.80 L52.78,246.92 L53.26,247.05 L53.73,247.18 L54.21,247.31 L54.69,247.46 L55.17,247.60 L55.65,247.76 L56.12,247.91 L56.60,248.08 L57.08,248.24 L57.56,248.42 L58.03,248.60 L58.51,248.78 L58.99,248.97 L59.47,249.16 L59.95,249.36 L60.42,249.57 L60.90,249.78 L61.38,249.99 L61.86,250.21 L62.33,250.44 L62.81,250.67 L63.29,250.90 L63.77,251.14 L64.25,251.39 L64.72,251.64 L65.20,251.90 L65.68,252.16 L66.16,252.43 L66.63,252.70 L67.11,252.98 L67.59,253.26 L68.07,253.54 L68.55,253.84 L69.02,254.13 L69.50,254.44 L69.98,254.74 L70.46,255.05 L70.93,255.37 L71.41,255.69 L71.89,256.02 L72.37,256.35 L72.85,256.69 L73.32,257.03 L73.80,257.37 L74.28,257.72 L74.76,258.08 L75.23,258.43 L75.71,258.80 L76.19,259.17 L76.67,259.54 L77.15,259.92 L77.62,260.30 L78.10,260.68 L78.58,261.07 L79.06,261.47 L79.53,261.87 L80.01,262.27 L80.49,262.68 L80.97,263.09 L81.45,263.50 L81.92,263.92 L82.40,264.34 L82.88,264.77 L83.36,265.20 L83.84,265.64 L84.31,266.07 L84.79,266.52 L85.27,266.96 L85.75,267.41 L86.22,267.86 L86.70,268.32 L87.18,268.78 L87.66,269.24 L88.14,269.70 L88.61,270.17 L89.09,270.64 L89.57,271.12 L90.05,271.60 L90.52,272.08 L91.00,272.56 L91.48,273.05 L91.96,273.53 L92.44,274.03 L92.91,274.52 L93.39,275.02 L93.87,275.52 L94.35,276.02 L94.82,276.52 L95.30,277.03 L95.78,277.54 L96.26,278.05 L96.74,278.56 L97.21,279.07 L97.69,279.59 L98.17,280.11 L98.65,280.63 L99.12,281.15 L99.60,281.67 L100.08,282.20 L100.56,282.72 L101.04,283.25 L101.51,283.78 L101.99,284.31 L102.47,284.84 L102.95,285.38 L103.42,285.91 L103.90,286.45 L104.38,286.98 L104.86,287.52 L105.34,288.06 L105.81,288.59 L106.29,289.13 L106.77,289.67 L107.25,290.21 L107.72,290.75 L108.20,291.29 L108.68,291.83 L109.16,292.38 L109.64,292.92 L110.11,293.46 L110.59,294.00 L111.07,294.54 L111.55,295.08 L112.03,295.62 L112.50,296.17 L112.98,296.71 L113.46,297.25 L113.94,297.79 L114.41,298.33 L114.89,298.87 L115.37,299.40 L115.85,299.94 L116.33,300.48 L116.80,301.02 L117.28,301.55 L117.76,302.09 L118.24,302.62 L118.71,303.15 L119.19,303.68 L119.67,304.21 L120.15,304.74 L120.63,305.27 L121.10,305.80 L121.58,306.32 L122.06,306.85 L122.54,307.37 L123.01,307.89 L123.49,308.41 L123.97,308.93 L124.45,309.44 L124.93,309.96 L125.40,310.47 L125.88,310.98 L126.36,311.49 L126.84,312.00 L127.31,312.50 L127.79,313.01 L128.27,313.51 L128.75,314.01 L129.23,314.51 L129.70,315.00 L130.18,315.49 L130.66,315.99 L131.14,316.47 L131.61,316.96 L132.09,317.45 L132.57,317.93 L133.05,318.41 L133.53,318.88 L134.00,319.36 L134.48,319.83 L134.96,320.30 L135.44,320.77 L135.91,321.23 L136.39,321.69 L136.87,322.15 L137.35,322.61 L137.83,323.06 L138.30,323.52 L138.78,323.96 L139.26,324.41 L139.74,324.85 L140.22,325.30 L140.69,325.73 L141.17,326.17 L141.65,326.60 L142.13,327.03 L142.60,327.46 L143.08,327.88 L143.56,328.30 L144.04,328.72 L144.52,329.14 L144.99,329.55 L145.47,329.96 L145.95,330.37 L146.43,330.77 L146.90,331.17 L147.38,331.57 L147.86,331.96 L148.34,332.36 L148.82,332.75 L149.29,333.13 L149.77,333.52 L150.25,333.90 L150.73,334.27 L151.20,334.65 L151.68,335.02 L152.16,335.39 L152.64,335.76 L153.12,336.12 L153.59,336.48 L154.07,336.84 L154.55,337.19 L155.03,337.54 L155.50,337.89 L155.98,338.24 L156.46,338.58 L156.94,338.92 L157.42,339.26 L157.89,339.59 L158.37,339.92 L158.85,340.25 L159.33,340.58 L159.80,340.90 L160.28,341.22 L160.76,341.54 L161.24,341.85 L161.72,342.16 L162.19,342.47 L162.67,342.78 L163.15,343.08 L163.63,343.38 L164.10,343.68 L164.58,343.98 L165.06,344.27 L165.54,344.56 L166.02,344.85 L166.49,345.13 L166.97,345.41 L167.45,345.69 L167.93,345.97 L168.41,346.25 L168.88,346.52 L169.36,346.79 L169.84,347.06 L170.32,347.32 L170.79,347.58 L171.27,347.84 L171.75,348.10 L172.23,348.35 L172.71,348.61 L173.18,348.86 L173.66,349.11 L174.14,349.35 L174.62,349.59 L175.09,349.84 L175.57,350.08 L176.05,350.31 L176.53,350.55 L177.01,350.78 L177.48,351.01 L177.96,351.24 L178.44,351.46 L178.92,351.69 L179.39,351.91 L179.87,352.13 L180.35,352.34 L180.83,352.56 L181.31,352.77 L181.78,352.99 L182.26,353.19 L182.74,353.40 L183.22,353.61 L183.69,353.81 L184.17,354.01 L184.65,354.21 L185.13,354.41 L185.61,354.61 L186.08,354.80 L186.56,355.00 L187.04,355.19 L187.52,355.38 L187.99,355.56 L188.47,355.75 L188.95,355.93 L189.43,356.12 L189.91,356.30 L190.38,356.48 L190.86,356.65 L191.34,356.83 L191.82,357.00 L192.29,357.18 L192.77,357.35 L193.25,357.52 L193.73,357.69 L194.21,357.85 L194.68,358.02 L195.16,358.18 L195.64,358.35 L196.12,358.51 L196.59,358.67 L197.07,358.83 L197.55,358.98 L198.03,359.14 L198.51,359.29 L198.98,359.45 L199.46,359.60 L199.94,359.75 L200.42,359.90 L200.90,360.05 L201.37,360.19 L201.85,360.34 L202.33,360.49 L202.81,360.63 L203.28,360.77 L203.76,360.91 L204.24,361.05 L204.72,361.19 L205.20,361.33 L205.67,361.46 L206.15,361.60 L206.63,361.73 L207.11,361.87 L207.58,362.00 L208.06,362.13 L208.54,362.26 L209.02,362.39 L209.50,362.52 L209.97,362.65 L210.45,362.77 L210.93,362.90 L211.41,363.02 L211.88,363.15 L212.36,363.27 L212.84,363.39 L213.32,363.51 L213.80,363.63 L214.27,363.75 L214.75,363.87 L215.23,363.99 L215.71,364.10 L216.18,364.22 L216.66,364.33 L217.14,364.45 L217.62,364.56 L218.10,364.67 L218.57,364.78 L219.05,364.89 L219.53,365.00 L220.01,365.11 L220.48,365.22 L220.96,365.33 L221.44,365.44 L221.92,365.54 L222.40,365.65 L222.87,365.75 L223.35,365.86 L223.83,365.96 L224.31,366.06 L224.78,366.16 L225.26,366.26 L225.74,366.36 L226.22,366.46 L226.70,366.56 L227.17,366.66 L227.65,366.76 L228.13,366.86 L228.61,366.95 L229.09,367.05 L229.56,367.14 L230.04,367.24 L230.52,367.33 L231.00,367.42 L231.47,367.52 L231.95,367.61 L232.43,367.70 L232.91,367.79 L233.39,367.88 L233.86,367.97 L234.34,368.06 L234.82,368.15 L235.30,368.23 L235.77,368.32 L236.25,368.41 L236.73,368.49 L237.21,368.58 L237.69,368.66 L238.16,368.75 L238.64,368.83 L239.12,368.92 L239.60,369.00 L240.07,369.08 L240.55,369.16 L241.03,369.24 L241.51,369.32 L241.99,369.40 L242.46,369.48 L242.94,369.56 L243.42,369.64 L243.90,369.72 L244.37,369.80 L244.85,369.87 L245.33,369.95 L245.81,370.02 L246.29,370.10 L246.76,370.18 L247.24,370.25 L247.72,370.32 L248.20,370.40 L248.67,370.47 L249.15,370.54 L249.63,370.61 L250.11,370.69 L250.59,370.76 L251.06,370.83 L251.54,370.90 L252.02,370.97 L252.50,371.03 L252.97,371.10 L253.45,371.17 L253.93,371.24 L254.41,371.31 L254.89,371.37 L255.36,371.44 L255.84,371.50 L256.32,371.57 L256.80,371.63 L257.28,371.70 L257.75,371.76 L258.23,371.83 L258.71,371.89 L259.19,371.95 L259.66,372.01 L260.14,372.08 L260.62,372.14 L261.10,372.20 L261.58,372.26 L262.05,372.32 L262.53,372.38 L263.01,372.44 L263.49,372.50 L263.96,372.55 L264.44,372.61 L264.92,372.67 L265.40,372.73 L265.88,372.78 L266.35,372.84 L266.83,372.90 L267.31,372.95 L267.79,373.01 L268.26,373.06 L268.74,373.12 L269.22,373.17 L269.70,373.22 L270.18,373.28 L270.65,373.33 L271.13,373.38 L271.61,373.43 L272.09,373.48 L272.56,373.53 L273.04,373.58 L273.52,373.63 L274.00,373.68 L274.48,373.73 L274.95,373.78 L275.43,373.83 L275.91,373.88 L276.39,373.93 L276.86,373.98 L277.34,374.02 L277.82,374.07 L278.30,374.12 L278.78,374.16 L279.25,374.21 L279.73,374.25 L280.21,374.30 L280.69,374.34 L281.16,374.39 L281.64,374.43 L282.12,374.47 L282.60,374.52 L283.08,374.56 L283.55,374.60 L284.03,374.64 L284.51,374.68 L284.99,374.73 L285.47,374.77 L285.94,374.81 L286.42,374.85 L286.90,374.89 L287.38,374.93 L287.85,374.97 L288.33,375.01 L288.81,375.04 L289.29,375.08 L289.77,375.12 L290.24,375.16 L290.72,375.19 L291.20,375.23 L291.68,375.27 L292.15,375.30 L292.63,375.34 L293.11,375.38 L293.59,375.41 L294.07,375.45 L294.54,375.48 L295.02,375.51 L295.50,375.55 L295.98,375.58 L296.45,375.61 L296.93,375.65 L297.41,375.68 L297.89,375.71 L298.37,375.74 L298.84,375.78 L299.32,375.81 L299.80,375.84 L300.28,375.87 L300.75,375.90 L301.23,375.93 L301.71,375.96 L302.19,375.99 L302.67,376.02 L303.14,376.05 L303.62,376.08 L304.10,376.10 L304.58,376.13 L305.05,376.16 L305.53,376.19 L306.01,376.21 L306.49,376.24 L306.97,376.27 L307.44,376.29 L307.92,376.32 L308.40,376.35 L308.88,376.37 L309.35,376.40 L309.83,376.42 L310.31,376.45 L310.79,376.47 L311.27,376.50 L311.74,376.52 L312.22,376.54 L312.70,376.57 L313.18,376.59 L313.66,376.61 L314.13,376.63 L314.61,376.66 L315.09,376.68 L315.57,376.70 L316.04,376.72 L316.52,376.74 L317.00,376.76 L317.48,376.78 L317.96,376.80 L318.43,376.82 L318.91,376.84 L319.39,376.86 L319.87,376.88 L320.34,376.90 L320.82,376.92 L321.30,376.94 L321.78,376.96 L322.26,376.98 L322.73,376.99 L323.21,377.01 L323.69,377.03 L324.17,377.05 L324.64,377.06 L325.12,377.08 L325.60,377.10" fill="none" stroke="#d95319" stroke-width="2.1" stroke-linejoin="round" />
<path d="M39.40,245.40 L39.88,245.72 L40.36,246.04 L40.83,246.35 L41.31,246.67 L41.79,246.99 L42.27,247.31 L42.74,247.62 L43.22,247.94 L43.70,248.26 L44.18,248.57 L44.66,248.89 L45.13,249.21 L45.61,249.52 L46.09,249.84 L46.57,250.15 L47.04,250.47 L47.52,250.79 L48.00,251.10 L48.48,251.42 L48.96,251.73 L49.43,252.05 L49.91,252.36 L50.39,252.68 L50.87,252.99 L51.34,253.31 L51.82,253.62 L52.30,253.93 L52.78,254.25 L53.26,254.56 L53.73,254.88 L54.21,255.19 L54.69,255.50 L55.17,255.82 L55.65,256.13 L56.12,256.44 L56.60,256.76 L57.08,257.07 L57.56,257.38 L58.03,257.69 L58.51,258.00 L58.99,258.32 L59.47,258.63 L59.95,258.94 L60.42,259.25 L60.90,259.56 L61.38,259.87 L61.86,260.18 L62.33,260.50 L62.81,260.81 L63.29,261.12 L63.77,261.43 L64.25,261.74 L64.72,262.05 L65.20,262.36 L65.68,262.67 L66.16,262.98 L66.63,263.28 L67.11,263.59 L67.59,263.90 L68.07,264.21 L68.55,264.52 L69.02,264.83 L69.50,265.14 L69.98,265.44 L70.46,265.75 L70.93,266.06 L71.41,266.37 L71.89,266.67 L72.37,266.98 L72.85,267.29 L73.32,267.59 L73.80,267.90 L74.28,268.21 L74.76,268.51 L75.23,268.82 L75.71,269.12 L76.19,269.43 L76.67,269.73 L77.15,270.04 L77.62,270.34 L78.10,270.65 L78.58,270.95 L79.06,271.26 L79.53,271.56 L80.01,271.86 L80.49,272.17 L80.97,272.47 L81.45,272.77 L81.92,273.08 L82.40,273.38 L82.88,273.68 L83.36,273.99 L83.84,274.29 L84.31,274.59 L84.79,274.89 L85.27,275.19 L85.75,275.49 L86.22,275.79 L86.70,276.09 L87.18,276.39 L87.66,276.70 L88.14,277.00 L88.61,277.30 L89.09,277.59 L89.57,277.89 L90.05,278.19 L90.52,278.49 L91.00,278.79 L91.48,279.09 L91.96,279.39 L92.44,279.68 L92.91,279.98 L93.39,280.28 L93.87,280.58 L94.35,280.87 L94.82,281.17 L95.30,281.47 L95.78,281.76 L96.26,282.06 L96.74,282.36 L97.21,282.65 L97.69,282.95 L98.17,283.24 L98.65,283.54 L99.12,283.83 L99.60,284.12 L100.08,284.42 L100.56,284.71 L101.04,285.01 L101.51,285.30 L101.99,285.59 L102.47,285.88 L102.95,286.18 L103.42,286.47 L103.90,286.76 L104.38,287.05 L104.86,287.34 L105.34,287.63 L105.81,287.92 L106.29,288.22 L106.77,288.51 L107.25,288.80 L107.72,289.08 L108.20,289.37 L108.68,289.66 L109.16,289.95 L109.64,290.24 L110.11,290.53 L110.59,290.82 L111.07,291.10 L111.55,291.39 L112.03,291.68 L112.50,291.97 L112.98,292.25 L113.46,292.54 L113.94,292.82 L114.41,293.11 L114.89,293.40 L115.37,293.68 L115.85,293.96 L116.33,294.25 L116.80,294.53 L117.28,294.82 L117.76,295.10 L118.24,295.38 L118.71,295.67 L119.19,295.95 L119.67,296.23 L120.15,296.51 L120.63,296.80 L121.10,297.08 L121.58,297.36 L122.06,297.64 L122.54,297.92 L123.01,298.20 L123.49,298.48 L123.97,298.76 L124.45,299.04 L124.93,299.32 L125.40,299.59 L125.88,299.87 L126.36,300.15 L126.84,300.43 L127.31,300.71 L127.79,300.98 L128.27,301.26 L128.75,301.53 L129.23,301.81 L129.70,302.09 L130.18,302.36 L130.66,302.64 L131.14,302.91 L131.61,303.18 L132.09,303.46 L132.57,303.73 L133.05,304.01 L133.53,304.28 L134.00,304.55 L134.48,304.82 L134.96,305.09 L135.44,305.37 L135.91,305.64 L136.39,305.91 L136.87,306.18 L137.35,306.45 L137.83,306.72 L138.30,306.99 L138.78,307.25 L139.26,307.52 L139.74,307.79 L140.22,308.06 L140.69,308.33 L141.17,308.59 L141.65,308.86 L142.13,309.13 L142.60,309.39 L143.08,309.66 L143.56,309.92 L144.04,310.19 L144.52,310.45 L144.99,310.72 L145.47,310.98 L145.95,311.24 L146.43,311.51 L146.90,311.77 L147.38,312.03 L147.86,312.29 L148.34,312.55 L148.82,312.81 L149.29,313.08 L149.77,313.34 L150.25,313.60 L150.73,313.85 L151.20,314.11 L151.68,314.37 L152.16,314.63 L152.64,314.89 L153.12,315.15 L153.59,315.40 L154.07,315.66 L154.55,315.92 L155.03,316.17 L155.50,316.43 L155.98,316.68 L156.46,316.94 L156.94,317.19 L157.42,317.44 L157.89,317.70 L158.37,317.95 L158.85,318.20 L159.33,318.45 L159.80,318.71 L160.28,318.96 L160.76,319.21 L161.24,319.46 L161.72,319.71 L162.19,319.96 L162.67,320.21 L163.15,320.46 L163.63,320.70 L164.10,320.95 L164.58,321.20 L165.06,321.45 L165.54,321.69 L166.02,321.94 L166.49,322.19 L166.97,322.43 L167.45,322.68 L167.93,322.92 L168.41,323.16 L168.88,323.41 L169.36,323.65 L169.84,323.89 L170.32,324.13 L170.79,324.38 L171.27,324.62 L171.75,324.86 L172.23,325.10 L172.71,325.34 L173.18,325.58 L173.66,325.82 L174.14,326.06 L174.62,326.29 L175.09,326.53 L175.57,326.77 L176.05,327.01 L176.53,327.24 L177.01,327.48 L177.48,327.71 L177.96,327.95 L178.44,328.18 L178.92,328.42 L179.39,328.65 L179.87,328.88 L180.35,329.12 L180.83,329.35 L181.31,329.58 L181.78,329.81 L182.26,330.04 L182.74,330.27 L183.22,330.50 L183.69,330.73 L184.17,330.96 L184.65,331.19 L185.13,331.42 L185.61,331.65 L186.08,331.87 L186.56,332.10 L187.04,332.33 L187.52,332.55 L187.99,332.78 L188.47,333.00 L188.95,333.23 L189.43,333.45 L189.91,333.67 L190.38,333.90 L190.86,334.12 L191.34,334.34 L191.82,334.56 L192.29,334.78 L192.77,335.00 L193.25,335.22 L193.73,335.44 L194.21,335.66 L194.68,335.88 L195.16,336.10 L195.64,336.32 L196.12,336.53 L196.59,336.75 L197.07,336.96 L197.55,337.18 L198.03,337.40 L198.51,337.61 L198.98,337.82 L199.46,338.04 L199.94,338.25 L200.42,338.46 L200.90,338.68 L201.37,338.89 L201.85,339.10 L202.33,339.31 L202.81,339.52 L203.28,339.73 L203.76,339.94 L204.24,340.15 L204.72,340.35 L205.20,340.56 L205.67,340.77 L206.15,340.98 L206.63,341.18 L207.11,341.39 L207.58,341.59 L208.06,341.80 L208.54,342.00 L209.02,342.21 L209.50,342.41 L209.97,342.61 L210.45,342.81 L210.93,343.02 L211.41,343.22 L211.88,343.42 L212.36,343.62 L212.84,343.82 L213.32,344.02 L213.80,344.21 L214.27,344.41 L214.75,344.61 L215.23,344.81 L215.71,345.00 L216.18,345.20 L216.66,345.40 L217.14,345.59 L217.62,345.79 L218.10,345.98 L218.57,346.17 L219.05,346.37 L219.53,346.56 L220.01,346.75 L220.48,346.94 L220.96,347.13 L221.44,347.32 L221.92,347.51 L222.40,347.70 L222.87,347.89 L223.35,348.08 L223.83,348.27 L224.31,348.46 L224.78,348.64 L225.26,348.83 L225.74,349.02 L226.22,349.20 L226.70,349.39 L227.17,349.57 L227.65,349.76 L228.13,349.94 L228.61,350.12 L229.09,350.31 L229.56,350.49 L230.04,350.67 L230.52,350.85 L231.00,351.03 L231.47,351.21 L231.95,351.39 L232.43,351.57 L232.91,351.75 L233.39,351.93 L233.86,352.10 L234.34,352.28 L234.82,352.46 L235.30,352.63 L235.77,352.81 L236.25,352.98 L236.73,353.16 L237.21,353.33 L237.69,353.51 L238.16,353.68 L238.64,353.85 L239.12,354.02 L239.60,354.19 L240.07,354.37 L240.55,354.54 L241.03,354.71 L241.51,354.88 L241.99,355.04 L242.46,355.21 L242.94,355.38 L243.42,355.55 L243.90,355.72 L244.37,355.88 L244.85,356.05 L245.33,356.21 L245.81,356.38 L246.29,356.54 L246.76,356.71 L247.24,356.87 L247.72,357.04 L248.20,357.20 L248.67,357.36 L249.15,357.52 L249.63,357.68 L250.11,357.84 L250.59,358.00 L251.06,358.16 L251.54,358.32 L252.02,358.48 L252.50,358.64 L252.97,358.80 L253.45,358.96 L253.93,359.11 L254.41,359.27 L254.89,359.42 L255.36,359.58 L255.84,359.73 L256.32,359.89 L256.80,360.04 L257.28,360.20 L257.75,360.35 L258.23,360.50 L258.71,360.65 L259.19,360.81 L259.66,360.96 L260.14,361.11 L260.62,361.26 L261.10,361.41 L261.58,361.56 L262.05,361.71 L262.53,361.85 L263.01,362.00 L263.49,362.15 L263.96,362.30 L264.44,362.44 L264.92,362.59 L265.40,362.73 L265.88,362.88 L266.35,363.02 L266.83,363.17 L267.31,363.31 L267.79,363.46 L268.26,363.60 L268.74,363.74 L269.22,363.88 L269.70,364.02 L270.18,364.17 L270.65,364.31 L271.13,364.45 L271.61,364.59 L272.09,364.73 L272.56,364.86 L273.04,365.00 L273.52,365.14 L274.00,365.28 L274.48,365.41 L274.95,365.55 L275.43,365.69 L275.91,365.82 L276.39,365.96 L276.86,366.09 L277.34,366.23 L277.82,366.36 L278.30,366.50 L278.78,366.63 L279.25,366.76 L279.73,366.89 L280.21,367.03 L280.69,367.16 L281.16,367.29 L281.64,367.42 L282.12,367.55 L282.60,367.68 L283.08,367.81 L283.55,367.94 L284.03,368.06 L284.51,368.19 L284.99,368.32 L285.47,368.45 L285.94,368.57 L286.42,368.70 L286.90,368.83 L287.38,368.95 L287.85,369.08 L288.33,369.20 L288.81,369.33 L289.29,369.45 L289.77,369.57 L290.24,369.70 L290.72,369.82 L291.20,369.94 L291.68,370.06 L292.15,370.18 L292.63,370.31 L293.11,370.43 L293.59,370.55 L294.07,370.67 L294.54,370.79 L295.02,370.91 L295.50,371.02 L295.98,371.14 L296.45,371.26 L296.93,371.38 L297.41,371.49 L297.89,371.61 L298.37,371.73 L298.84,371.84 L299.32,371.96 L299.80,372.07 L300.28,372.19 L300.75,372.30 L301.23,372.42 L301.71,372.53 L302.19,372.65 L302.67,372.76 L303.14,372.87 L303.62,372.98 L304.10,373.10 L304.58,373.21 L305.05,373.32 L305.53,373.43 L306.01,373.54 L306.49,373.65 L306.97,373.76 L307.44,373.87 L307.92,373.98 L308.40,374.09 L308.88,374.19 L309.35,374.30 L309.83,374.41 L310.31,374.52 L310.79,374.62 L311.27,374.73 L311.74,374.84 L312.22,374.94 L312.70,375.05 L313.18,375.15 L313.66,375.26 L314.13,375.36 L314.61,375.47 L315.09,375.57 L315.57,375.67 L316.04,375.78 L316.52,375.88 L317.00,375.98 L317.48,376.09 L317.96,376.19 L318.43,376.29 L318.91,376.39 L319.39,376.49 L319.87,376.59 L320.34,376.69 L320.82,376.79 L321.30,376.89 L321.78,376.99 L322.26,377.09 L322.73,377.19 L323.21,377.29 L323.69,377.38 L324.17,377.48 L324.64,377.58 L325.12,377.68 L325.60,377.77" fill="none" stroke="#edb120" stroke-width="2.1" stroke-linejoin="round" />
<path d="M39.40,245.40 L39.88,245.76 L40.36,246.12 L40.83,246.47 L41.31,246.83 L41.79,247.18 L42.27,247.54 L42.74,247.89 L43.22,248.24 L43.70,248.60 L44.18,248.95 L44.66,249.30 L45.13,249.65 L45.61,250.00 L46.09,250.34 L46.57,250.69 L47.04,251.04 L47.52,251.39 L48.00,251.73 L48.48,252.08 L48.96,252.42 L49.43,252.77 L49.91,253.11 L50.39,253.45 L50.87,253.79 L51.34,254.14 L51.82,254.48 L52.30,254.82 L52.78,255.16 L53.26,255.50 L53.73,255.84 L54.21,256.18 L54.69,256.51 L55.17,256.85 L55.65,257.19 L56.12,257.53 L56.60,257.86 L57.08,258.20 L57.56,258.53 L58.03,258.87 L58.51,259.20 L58.99,259.54 L59.47,259.87 L59.95,260.20 L60.42,260.54 L60.90,260.87 L61.38,261.20 L61.86,261.53 L62.33,261.87 L62.81,262.20 L63.29,262.53 L63.77,262.86 L64.25,263.19 L64.72,263.52 L65.20,263.85 L65.68,264.18 L66.16,264.51 L66.63,264.84 L67.11,265.16 L67.59,265.49 L68.07,265.82 L68.55,266.15 L69.02,266.48 L69.50,266.80 L69.98,267.13 L70.46,267.46 L70.93,267.78 L71.41,268.11 L71.89,268.43 L72.37,268.76 L72.85,269.09 L73.32,269.41 L73.80,269.74 L74.28,270.06 L74.76,270.39 L75.23,270.71 L75.71,271.04 L76.19,271.36 L76.67,271.68 L77.15,272.01 L77.62,272.33 L78.10,272.66 L78.58,272.98 L79.06,273.30 L79.53,273.63 L80.01,273.95 L80.49,274.27 L80.97,274.59 L81.45,274.92 L81.92,275.24 L82.40,275.56 L82.88,275.88 L83.36,276.21 L83.84,276.53 L84.31,276.85 L84.79,277.17 L85.27,277.49 L85.75,277.82 L86.22,278.14 L86.70,278.46 L87.18,278.78 L87.66,279.10 L88.14,279.42 L88.61,279.74 L89.09,280.06 L89.57,280.39 L90.05,280.71 L90.52,281.03 L91.00,281.35 L91.48,281.67 L91.96,281.99 L92.44,282.31 L92.91,282.63 L93.39,282.95 L93.87,283.27 L94.35,283.59 L94.82,283.91 L95.30,284.23 L95.78,284.55 L96.26,284.87 L96.74,285.19 L97.21,285.51 L97.69,285.83 L98.17,286.15 L98.65,286.47 L99.12,286.79 L99.60,287.11 L100.08,287.43 L100.56,287.75 L101.04,288.07 L101.51,288.39 L101.99,288.71 L102.47,289.03 L102.95,289.35 L103.42,289.67 L103.90,289.99 L104.38,290.31 L104.86,290.63 L105.34,290.95 L105.81,291.26 L106.29,291.58 L106.77,291.90 L107.25,292.22 L107.72,292.54 L108.20,292.86 L108.68,293.18 L109.16,293.50 L109.64,293.82 L110.11,294.14 L110.59,294.45 L111.07,294.77 L111.55,295.09 L112.03,295.41 L112.50,295.73 L112.98,296.05 L113.46,296.37 L113.94,296.68 L114.41,297.00 L114.89,297.32 L115.37,297.64 L115.85,297.96 L116.33,298.28 L116.80,298.59 L117.28,298.91 L117.76,299.23 L118.24,299.55 L118.71,299.87 L119.19,300.18 L119.67,300.50 L120.15,300.82 L120.63,301.14 L121.10,301.45 L121.58,301.77 L122.06,302.09 L122.54,302.41 L123.01,302.72 L123.49,303.04 L123.97,303.36 L124.45,303.67 L124.93,303.99 L125.40,304.31 L125.88,304.62 L126.36,304.94 L126.84,305.26 L127.31,305.57 L127.79,305.89 L128.27,306.20 L128.75,306.52 L129.23,306.84 L129.70,307.15 L130.18,307.47 L130.66,307.78 L131.14,308.10 L131.61,308.41 L132.09,308.73 L132.57,309.04 L133.05,309.36 L133.53,309.67 L134.00,309.99 L134.48,310.30 L134.96,310.61 L135.44,310.93 L135.91,311.24 L136.39,311.55 L136.87,311.87 L137.35,312.18 L137.83,312.49 L138.30,312.81 L138.78,313.12 L139.26,313.43 L139.74,313.74 L140.22,314.06 L140.69,314.37 L141.17,314.68 L141.65,314.99 L142.13,315.30 L142.60,315.61 L143.08,315.93 L143.56,316.24 L144.04,316.55 L144.52,316.86 L144.99,317.17 L145.47,317.48 L145.95,317.79 L146.43,318.09 L146.90,318.40 L147.38,318.71 L147.86,319.02 L148.34,319.33 L148.82,319.64 L149.29,319.94 L149.77,320.25 L150.25,320.56 L150.73,320.87 L151.20,321.17 L151.68,321.48 L152.16,321.78 L152.64,322.09 L153.12,322.40 L153.59,322.70 L154.07,323.01 L154.55,323.31 L155.03,323.61 L155.50,323.92 L155.98,324.22 L156.46,324.52 L156.94,324.83 L157.42,325.13 L157.89,325.43 L158.37,325.73 L158.85,326.03 L159.33,326.34 L159.80,326.64 L160.28,326.94 L160.76,327.24 L161.24,327.54 L161.72,327.83 L162.19,328.13 L162.67,328.43 L163.15,328.73 L163.63,329.03 L164.10,329.32 L164.58,329.62 L165.06,329.92 L165.54,330.21 L166.02,330.51 L166.49,330.80 L166.97,331.10 L167.45,331.39 L167.93,331.68 L168.41,331.98 L168.88,332.27 L169.36,332.56 L169.84,332.85 L170.32,333.15 L170.79,333.44 L171.27,333.73 L171.75,334.02 L172.23,334.31 L172.71,334.60 L173.18,334.88 L173.66,335.17 L174.14,335.46 L174.62,335.75 L175.09,336.03 L175.57,336.32 L176.05,336.60 L176.53,336.89 L177.01,337.17 L177.48,337.46 L177.96,337.74 L178.44,338.02 L178.92,338.30 L179.39,338.58 L179.87,338.87 L180.35,339.15 L180.83,339.42 L181.31,339.70 L181.78,339.98 L182.26,340.26 L182.74,340.54 L183.22,340.81 L183.69,341.09 L184.17,341.37 L184.65,341.64 L185.13,341.92 L185.61,342.19 L186.08,342.46 L186.56,342.73 L187.04,343.01 L187.52,343.28 L187.99,343.55 L188.47,343.82 L188.95,344.09 L189.43,344.35 L189.91,344.62 L190.38,344.89 L190.86,345.16 L191.34,345.42 L191.82,345.69 L192.29,345.95 L192.77,346.21 L193.25,346.48 L193.73,346.74 L194.21,347.00 L194.68,347.26 L195.16,347.52 L195.64,347.78 L196.12,348.04 L196.59,348.30 L197.07,348.56 L197.55,348.81 L198.03,349.07 L198.51,349.32 L198.98,349.58 L199.46,349.83 L199.94,350.08 L200.42,350.34 L200.90,350.59 L201.37,350.84 L201.85,351.09 L202.33,351.34 L202.81,351.58 L203.28,351.83 L203.76,352.08 L204.24,352.32 L204.72,352.57 L205.20,352.81 L205.67,353.06 L206.15,353.30 L206.63,353.54 L207.11,353.78 L207.58,354.02 L208.06,354.26 L208.54,354.50 L209.02,354.73 L209.50,354.97 L209.97,355.21 L210.45,355.44 L210.93,355.68 L211.41,355.91 L211.88,356.14 L212.36,356.37 L212.84,356.60 L213.32,356.83 L213.80,357.06 L214.27,357.29 L214.75,357.52 L215.23,357.74 L215.71,357.97 L216.18,358.19 L216.66,358.42 L217.14,358.64 L217.62,358.86 L218.10,359.08 L218.57,359.30 L219.05,359.52 L219.53,359.74 L220.01,359.96 L220.48,360.18 L220.96,360.39 L221.44,360.61 L221.92,360.82 L222.40,361.03 L222.87,361.24 L223.35,361.46 L223.83,361.67 L224.31,361.87 L224.78,362.08 L225.26,362.29 L225.74,362.50 L226.22,362.70 L226.70,362.91 L227.17,363.11 L227.65,363.31 L228.13,363.51 L228.61,363.71 L229.09,363.91 L229.56,364.11 L230.04,364.31 L230.52,364.51 L231.00,364.70 L231.47,364.90 L231.95,365.09 L232.43,365.28 L232.91,365.48 L233.39,365.67 L233.86,365.86 L234.34,366.05 L234.82,366.23 L235.30,366.42 L235.77,366.61 L236.25,366.79 L236.73,366.98 L237.21,367.16 L237.69,367.34 L238.16,367.52 L238.64,367.70 L239.12,367.88 L239.60,368.06 L240.07,368.24 L240.55,368.41 L241.03,368.59 L241.51,368.76 L241.99,368.94 L242.46,369.11 L242.94,369.28 L243.42,369.45 L243.90,369.62 L244.37,369.79 L244.85,369.96 L245.33,370.12 L245.81,370.29 L246.29,370.45 L246.76,370.62 L247.24,370.78 L247.72,370.94 L248.20,371.10 L248.67,371.26 L249.15,371.42 L249.63,371.58 L250.11,371.74 L250.59,371.89 L251.06,372.05 L251.54,372.20 L252.02,372.35 L252.50,372.50 L252.97,372.65 L253.45,372.80 L253.93,372.95 L254.41,373.10 L254.89,373.25 L255.36,373.39 L255.84,373.54 L256.32,373.68 L256.80,373.83 L257.28,373.97 L257.75,374.11 L258.23,374.25 L258.71,374.39 L259.19,374.53 L259.66,374.67 L260.14,374.80 L260.62,374.94 L261.10,375.07 L261.58,375.21 L262.05,375.34 L262.53,375.47 L263.01,375.60 L263.49,375.73 L263.96,375.86 L264.44,375.99 L264.92,376.12 L265.40,376.24 L265.88,376.37 L266.35,376.49 L266.83,376.62 L267.31,376.74 L267.79,376.86 L268.26,376.98 L268.74,377.10 L269.22,377.22 L269.70,377.34 L270.18,377.46 L270.65,377.57 L271.13,377.69 L271.61,377.80 L272.09,377.92 L272.56,378.03 L273.04,378.14 L273.52,378.25 L274.00,378.37 L274.48,378.48 L274.95,378.58 L275.43,378.69 L275.91,378.80 L276.39,378.91 L276.86,379.01 L277.34,379.12 L277.82,379.22 L278.30,379.32 L278.78,379.43 L279.25,379.53 L279.73,379.63 L280.21,379.73 L280.69,379.83 L281.16,379.93 L281.64,380.03 L282.12,380.12 L282.60,380.22 L283.08,380.32 L283.55,380.41 L284.03,380.51 L284.51,380.60 L284.99,380.69 L285.47,380.78 L285.94,380.88 L286.42,380.97 L286.90,381.06 L287.38,381.15 L287.85,381.24 L288.33,381.32 L288.81,381.41 L289.29,381.50 L289.77,381.59 L290.24,381.67 L290.72,381.76 L291.20,381.84 L291.68,381.93 L292.15,382.01 L292.63,382.09 L293.11,382.18 L293.59,382.26 L294.07,382.34 L294.54,382.42 L295.02,382.50 L295.50,382.58 L295.98,382.66 L296.45,382.74 L296.93,382.82 L297.41,382.89 L297.89,382.97 L298.37,383.05 L298.84,383.13 L299.32,383.20 L299.80,383.28 L300.28,383.35 L300.75,383.43 L301.23,383.50 L301.71,383.58 L302.19,383.65 L302.67,383.72 L303.14,383.80 L303.62,383.87 L304.10,383.94 L304.58,384.02 L305.05,384.09 L305.53,384.16 L306.01,384.23 L306.49,384.30 L306.97,384.37 L307.44,384.44 L307.92,384.51 L308.40,384.58 L308.88,384.65 L309.35,384.72 L309.83,384.79 L310.31,384.86 L310.79,384.93 L311.27,385.00 L311.74,385.07 L312.22,385.14 L312.70,385.21 L313.18,385.28 L313.66,385.35 L314.13,385.42 L314.61,385.49 L315.09,385.56 L315.57,385.62 L316.04,385.69 L316.52,385.76 L317.00,385.83 L317.48,385.90 L317.96,385.97 L318.43,386.04 L318.91,386.11 L319.39,386.18 L319.87,386.25 L320.34,386.32 L320.82,386.39 L321.30,386.46 L321.78,386.53 L322.26,386.60 L322.73,386.67 L323.21,386.74 L323.69,386.81 L324.17,386.89 L324.64,386.96 L325.12,387.03 L325.60,387.10" fill="none" stroke="#7e2f8e" stroke-width="2.1" stroke-linejoin="round" />
</g>
<text x="170.20" y="232.40" font-family="Liberation Serif, serif" font-size="18.5" fill="#111" text-anchor="start">(</text>
<text x="191.30" y="232.40" font-family="Liberation Serif, serif" font-size="18.5" fill="#111" text-anchor="end">)</text>
<text x="176.60" y="231.90" font-family="Liberation Serif, serif" font-size="16.2" font-weight="bold" fill="#111" text-anchor="start" textLength="8.50" lengthAdjust="spacingAndGlyphs">c</text>
<text x="163.40" y="427.90" font-family="Liberation Serif, serif" font-size="13.0" text-anchor="start" fill="#1a1a1a"  textLength="38.60" lengthAdjust="spacingAndGlyphs">Time <tspan font-style="italic">t</tspan></text>
<g transform="translate(10.8,386.7) rotate(-90)">
<text x="0.00" y="0.00" font-family="Liberation Serif, serif" font-size="13.0" text-anchor="start" fill="#1a1a1a"  textLength="127.00" lengthAdjust="spacingAndGlyphs">Tumor size (log scale)</text>
</g>
<rect x="190.8" y="250.5" width="128.7" height="65.69999999999999" fill="#fff" stroke="#8f8f8f" stroke-width="0.8"/>
<path d="M192.60000000000002,259.10 h20.9" stroke="#0072bd" stroke-width="2.1" fill="none"/>
<text x="214.90" y="262.60" font-family="Liberation Serif, serif" font-size="13.2" text-anchor="start" fill="#1a1a1a"  textLength="96.70" lengthAdjust="spacingAndGlyphs">Constant <tspan font-style="italic">c</tspan> <tspan font-size="15.5" dy="1.5">=</tspan><tspan dy="-1.5"> </tspan>4.2</text>
<path d="M192.60000000000002,275.10 h20.9" stroke="#d95319" stroke-width="2.1" fill="none"/>
<text x="214.90" y="278.60" font-family="Liberation Serif, serif" font-size="13.2" text-anchor="start" fill="#1a1a1a"  textLength="81.40" lengthAdjust="spacingAndGlyphs">Linear <tspan font-style="italic">c&#x0304;</tspan> <tspan font-size="15.5" dy="1.5">=</tspan><tspan dy="-1.5"> </tspan>4.2</text>
<path d="M192.60000000000002,291.10 h20.9" stroke="#edb120" stroke-width="2.1" fill="none"/>
<text x="214.90" y="294.60" font-family="Liberation Serif, serif" font-size="13.2" text-anchor="start" fill="#1a1a1a"  textLength="102.80" lengthAdjust="spacingAndGlyphs">Constant <tspan font-style="italic">c</tspan> <tspan font-size="15.5" dy="1.5">=</tspan><tspan dy="-1.5"> </tspan>0.85</text>
<path d="M192.60000000000002,307.10 h20.9" stroke="#7e2f8e" stroke-width="2.1" fill="none"/>
<text x="214.90" y="310.60" font-family="Liberation Serif, serif" font-size="13.2" text-anchor="start" fill="#1a1a1a"  textLength="101.80" lengthAdjust="spacingAndGlyphs">Optimal (<tspan font-style="italic">T</tspan> <tspan font-size="15.5" dy="1.5">=</tspan><tspan dy="-1.5"> </tspan>10)</text>
<rect x="394.3" y="245.4" width="286.3" height="154.79999999999998" fill="#fff" stroke="#8a8a8a" stroke-width="0.8"/>
<path d="M394.30,400.2 v-2.9 M394.30,245.4 v2.9" stroke="#8a8a8a" stroke-width="0.8" fill="none"/>
<text x="394.30" y="413.80" font-family="Liberation Sans, sans-serif" font-size="9.9" text-anchor="middle" fill="#262626">0</text>
<path d="M451.56,400.2 v-2.9 M451.56,245.4 v2.9" stroke="#8a8a8a" stroke-width="0.8" fill="none"/>
<text x="451.56" y="413.80" font-family="Liberation Sans, sans-serif" font-size="9.9" text-anchor="middle" fill="#262626">2</text>
<path d="M508.82,400.2 v-2.9 M508.82,245.4 v2.9" stroke="#8a8a8a" stroke-width="0.8" fill="none"/>
<text x="508.82" y="413.80" font-family="Liberation Sans, sans-serif" font-size="9.9" text-anchor="middle" fill="#262626">4</text>
<path d="M566.08,400.2 v-2.9 M566.08,245.4 v2.9" stroke="#8a8a8a" stroke-width="0.8" fill="none"/>
<text x="566.08" y="413.80" font-family="Liberation Sans, sans-serif" font-size="9.9" text-anchor="middle" fill="#262626">6</text>
<path d="M623.34,400.2 v-2.9 M623.34,245.4 v2.9" stroke="#8a8a8a" stroke-width="0.8" fill="none"/>
<text x="623.34" y="413.80" font-family="Liberation Sans, sans-serif" font-size="9.9" text-anchor="middle" fill="#262626">8</text>
<path d="M680.60,400.2 v-2.9 M680.60,245.4 v2.9" stroke="#8a8a8a" stroke-width="0.8" fill="none"/>
<text x="680.60" y="413.80" font-family="Liberation Sans, sans-serif" font-size="9.9" text-anchor="middle" fill="#262626">10</text>
<path d="M394.3,400.20 h2.9 M680.6,400.20 h-2.9" stroke="#8a8a8a" stroke-width="0.8" fill="none"/>
<text x="390.80" y="404.25" font-family="Liberation Sans, sans-serif" font-size="9.9" text-anchor="end" fill="#262626">0</text>
<path d="M394.3,348.60 h2.9 M680.6,348.60 h-2.9" stroke="#8a8a8a" stroke-width="0.8" fill="none"/>
<text x="390.80" y="352.65" font-family="Liberation Sans, sans-serif" font-size="9.9" text-anchor="end" fill="#262626">0.05</text>
<path d="M394.3,297.00 h2.9 M680.6,297.00 h-2.9" stroke="#8a8a8a" stroke-width="0.8" fill="none"/>
<text x="390.80" y="301.05" font-family="Liberation Sans, sans-serif" font-size="9.9" text-anchor="end" fill="#262626">0.1</text>
<path d="M394.3,245.40 h2.9 M680.6,245.40 h-2.9" stroke="#8a8a8a" stroke-width="0.8" fill="none"/>
<text x="390.80" y="249.45" font-family="Liberation Sans, sans-serif" font-size="9.9" text-anchor="end" fill="#262626">0.15</text>
<clipPath id="cd"><rect x="394.3" y="244.4" width="287.1" height="156.79999999999998"/></clipPath><g clip-path="url(#cd)">
<path d="M394.30,400.20 L394.78,397.40 L395.26,394.82 L395.73,392.34 L396.21,389.94 L396.69,387.61 L397.17,385.35 L397.65,383.15 L398.12,381.00 L398.60,378.90 L399.08,376.85 L399.56,374.85 L400.04,372.90 L400.51,370.98 L400.99,369.11 L401.47,367.28 L401.95,365.49 L402.43,363.73 L402.90,362.02 L403.38,360.34 L403.86,358.69 L404.34,357.08 L404.82,355.50 L405.29,353.95 L405.77,352.43 L406.25,350.94 L406.73,349.48 L407.21,348.06 L407.68,346.66 L408.16,345.28 L408.64,343.94 L409.12,342.62 L409.59,341.32 L410.07,340.05 L410.55,338.81 L411.03,337.59 L411.51,336.39 L411.98,335.22 L412.46,334.07 L412.94,332.94 L413.42,331.83 L413.90,330.74 L414.37,329.67 L414.85,328.63 L415.33,327.60 L415.81,326.59 L416.29,325.60 L416.76,324.63 L417.24,323.68 L417.72,322.75 L418.20,321.83 L418.68,320.93 L419.15,320.05 L419.63,319.18 L420.11,318.33 L420.59,317.49 L421.07,316.67 L421.54,315.87 L422.02,315.08 L422.50,314.31 L422.98,313.54 L423.46,312.80 L423.93,312.06 L424.41,311.34 L424.89,310.64 L425.37,309.94 L425.85,309.26 L426.32,308.59 L426.80,307.94 L427.28,307.29 L427.76,306.66 L428.24,306.04 L428.71,305.43 L429.19,304.83 L429.67,304.24 L430.15,303.66 L430.63,303.10 L431.10,302.54 L431.58,301.99 L432.06,301.46 L432.54,300.93 L433.02,300.41 L433.49,299.90 L433.97,299.40 L434.45,298.91 L434.93,298.43 L435.40,297.96 L435.88,297.49 L436.36,297.04 L436.84,296.59 L437.32,296.15 L437.79,295.72 L438.27,295.29 L438.75,294.87 L439.23,294.46 L439.71,294.06 L440.18,293.67 L440.66,293.28 L441.14,292.90 L441.62,292.52 L442.10,292.16 L442.57,291.79 L443.05,291.44 L443.53,291.09 L444.01,290.75 L444.49,290.41 L444.96,290.08 L445.44,289.76 L445.92,289.44 L446.40,289.12 L446.88,288.82 L447.35,288.51 L447.83,288.22 L448.31,287.93 L448.79,287.64 L449.27,287.36 L449.74,287.08 L450.22,286.81 L450.70,286.54 L451.18,286.28 L451.66,286.02 L452.13,285.77 L452.61,285.52 L453.09,285.28 L453.57,285.04 L454.05,284.80 L454.52,284.57 L455.00,284.34 L455.48,284.12 L455.96,283.90 L456.44,283.68 L456.91,283.47 L457.39,283.26 L457.87,283.05 L458.35,282.85 L458.83,282.66 L459.30,282.46 L459.78,282.27 L460.26,282.08 L460.74,281.90 L461.21,281.72 L461.69,281.54 L462.17,281.36 L462.65,281.19 L463.13,281.02 L463.60,280.86 L464.08,280.69 L464.56,280.53 L465.04,280.38 L465.52,280.22 L465.99,280.07 L466.47,279.92 L466.95,279.77 L467.43,279.63 L467.91,279.49 L468.38,279.35 L468.86,279.21 L469.34,279.08 L469.82,278.94 L470.30,278.81 L470.77,278.69 L471.25,278.56 L471.73,278.44 L472.21,278.32 L472.69,278.20 L473.16,278.08 L473.64,277.96 L474.12,277.85 L474.60,277.74 L475.08,277.63 L475.55,277.52 L476.03,277.42 L476.51,277.31 L476.99,277.21 L477.47,277.11 L477.94,277.01 L478.42,276.92 L478.90,276.82 L479.38,276.73 L479.86,276.64 L480.33,276.55 L480.81,276.46 L481.29,276.37 L481.77,276.28 L482.25,276.20 L482.72,276.12 L483.20,276.04 L483.68,275.96 L484.16,275.88 L484.64,275.80 L485.11,275.72 L485.59,275.65 L486.07,275.58 L486.55,275.50 L487.02,275.43 L487.50,275.36 L487.98,275.29 L488.46,275.23 L488.94,275.16 L489.41,275.10 L489.89,275.03 L490.37,274.97 L490.85,274.91 L491.33,274.85 L491.80,274.79 L492.28,274.73 L492.76,274.67 L493.24,274.61 L493.72,274.56 L494.19,274.50 L494.67,274.45 L495.15,274.40 L495.63,274.34 L496.11,274.29 L496.58,274.24 L497.06,274.19 L497.54,274.15 L498.02,274.10 L498.50,274.05 L498.97,274.00 L499.45,273.96 L499.93,273.91 L500.41,273.87 L500.89,273.83 L501.36,273.79 L501.84,273.74 L502.32,273.70 L502.80,273.66 L503.28,273.62 L503.75,273.58 L504.23,273.55 L504.71,273.51 L505.19,273.47 L505.67,273.43 L506.14,273.40 L506.62,273.36 L507.10,273.33 L507.58,273.30 L508.06,273.26 L508.53,273.23 L509.01,273.20 L509.49,273.17 L509.97,273.13 L510.45,273.10 L510.92,273.07 L511.40,273.04 L511.88,273.01 L512.36,272.99 L512.83,272.96 L513.31,272.93 L513.79,272.90 L514.27,272.88 L514.75,272.85 L515.22,272.82 L515.70,272.80 L516.18,272.77 L516.66,272.75 L517.14,272.73 L517.61,272.70 L518.09,272.68 L518.57,272.66 L519.05,272.63 L519.53,272.61 L520.00,272.59 L520.48,272.57 L520.96,272.55 L521.44,272.53 L521.92,272.51 L522.39,272.49 L522.87,272.47 L523.35,272.45 L523.83,272.43 L524.31,272.41 L524.78,272.39 L525.26,272.37 L525.74,272.35 L526.22,272.34 L526.70,272.32 L527.17,272.30 L527.65,272.29 L528.13,272.27 L528.61,272.25 L529.09,272.24 L529.56,272.22 L530.04,272.21 L530.52,272.19 L531.00,272.18 L531.48,272.16 L531.95,272.15 L532.43,272.13 L532.91,272.12 L533.39,272.11 L533.87,272.09 L534.34,272.08 L534.82,272.07 L535.30,272.05 L535.78,272.04 L536.26,272.03 L536.73,272.02 L537.21,272.01 L537.69,271.99 L538.17,271.98 L538.64,271.97 L539.12,271.96 L539.60,271.95 L540.08,271.94 L540.56,271.93 L541.03,271.92 L541.51,271.91 L541.99,271.90 L542.47,271.89 L542.95,271.88 L543.42,271.87 L543.90,271.86 L544.38,271.85 L544.86,271.84 L545.34,271.83 L545.81,271.82 L546.29,271.81 L546.77,271.81 L547.25,271.80 L547.73,271.79 L548.20,271.78 L548.68,271.77 L549.16,271.77 L549.64,271.76 L550.12,271.75 L550.59,271.74 L551.07,271.74 L551.55,271.73 L552.03,271.72 L552.51,271.72 L552.98,271.71 L553.46,271.70 L553.94,271.70 L554.42,271.69 L554.90,271.68 L555.37,271.68 L555.85,271.67 L556.33,271.66 L556.81,271.66 L557.29,271.65 L557.76,271.65 L558.24,271.64 L558.72,271.63 L559.20,271.63 L559.68,271.62 L560.15,271.62 L560.63,271.61 L561.11,271.61 L561.59,271.60 L562.07,271.60 L562.54,271.59 L563.02,271.59 L563.50,271.58 L563.98,271.58 L564.45,271.57 L564.93,271.57 L565.41,271.57 L565.89,271.56 L566.37,271.56 L566.84,271.55 L567.32,271.55 L567.80,271.55 L568.28,271.54 L568.76,271.54 L569.23,271.53 L569.71,271.53 L570.19,271.53 L570.67,271.52 L571.15,271.52 L571.62,271.52 L572.10,271.51 L572.58,271.51 L573.06,271.50 L573.54,271.50 L574.01,271.50 L574.49,271.50 L574.97,271.49 L575.45,271.49 L575.93,271.49 L576.40,271.48 L576.88,271.48 L577.36,271.48 L577.84,271.47 L578.32,271.47 L578.79,271.47 L579.27,271.47 L579.75,271.46 L580.23,271.46 L580.71,271.46 L581.18,271.46 L581.66,271.45 L582.14,271.45 L582.62,271.45 L583.10,271.45 L583.57,271.44 L584.05,271.44 L584.53,271.44 L585.01,271.44 L585.49,271.43 L585.96,271.43 L586.44,271.43 L586.92,271.43 L587.40,271.43 L587.88,271.42 L588.35,271.42 L588.83,271.42 L589.31,271.42 L589.79,271.42 L590.26,271.41 L590.74,271.41 L591.22,271.41 L591.70,271.41 L592.18,271.41 L592.65,271.41 L593.13,271.40 L593.61,271.40 L594.09,271.40 L594.57,271.40 L595.04,271.40 L595.52,271.40 L596.00,271.39 L596.48,271.39 L596.96,271.39 L597.43,271.39 L597.91,271.39 L598.39,271.39 L598.87,271.39 L599.35,271.38 L599.82,271.38 L600.30,271.38 L600.78,271.38 L601.26,271.38 L601.74,271.38 L602.21,271.38 L602.69,271.38 L603.17,271.37 L603.65,271.37 L604.13,271.37 L604.60,271.37 L605.08,271.37 L605.56,271.37 L606.04,271.37 L606.52,271.37 L606.99,271.37 L607.47,271.36 L607.95,271.36 L608.43,271.36 L608.91,271.36 L609.38,271.36 L609.86,271.36 L610.34,271.36 L610.82,271.36 L611.30,271.36 L611.77,271.36 L612.25,271.36 L612.73,271.35 L613.21,271.35 L613.69,271.35 L614.16,271.35 L614.64,271.35 L615.12,271.35 L615.60,271.35 L616.07,271.35 L616.55,271.35 L617.03,271.35 L617.51,271.35 L617.99,271.35 L618.46,271.35 L618.94,271.34 L619.42,271.34 L619.90,271.34 L620.38,271.34 L620.85,271.34 L621.33,271.34 L621.81,271.34 L622.29,271.34 L622.77,271.34 L623.24,271.34 L623.72,271.34 L624.20,271.34 L624.68,271.34 L625.16,271.34 L625.63,271.34 L626.11,271.34 L626.59,271.34 L627.07,271.33 L627.55,271.33 L628.02,271.33 L628.50,271.33 L628.98,271.33 L629.46,271.33 L629.94,271.33 L630.41,271.33 L630.89,271.33 L631.37,271.33 L631.85,271.33 L632.33,271.33 L632.80,271.33 L633.28,271.33 L633.76,271.33 L634.24,271.33 L634.72,271.33 L635.19,271.33 L635.67,271.33 L636.15,271.33 L636.63,271.33 L637.11,271.33 L637.58,271.33 L638.06,271.32 L638.54,271.32 L639.02,271.32 L639.50,271.32 L639.97,271.32 L640.45,271.32 L640.93,271.32 L641.41,271.32 L641.88,271.32 L642.36,271.32 L642.84,271.32 L643.32,271.32 L643.80,271.32 L644.27,271.32 L644.75,271.32 L645.23,271.32 L645.71,271.32 L646.19,271.32 L646.66,271.32 L647.14,271.32 L647.62,271.32 L648.10,271.32 L648.58,271.32 L649.05,271.32 L649.53,271.32 L650.01,271.32 L650.49,271.32 L650.97,271.32 L651.44,271.32 L651.92,271.32 L652.40,271.32 L652.88,271.32 L653.36,271.32 L653.83,271.32 L654.31,271.32 L654.79,271.32 L655.27,271.32 L655.75,271.31 L656.22,271.31 L656.70,271.31 L657.18,271.31 L657.66,271.31 L658.14,271.31 L658.61,271.31 L659.09,271.31 L659.57,271.31 L660.05,271.31 L660.53,271.31 L661.00,271.31 L661.48,271.31 L661.96,271.31 L662.44,271.31 L662.92,271.31 L663.39,271.31 L663.87,271.31 L664.35,271.31 L664.83,271.31 L665.31,271.31 L665.78,271.31 L666.26,271.31 L666.74,271.31 L667.22,271.31 L667.69,271.31 L668.17,271.31 L668.65,271.31 L669.13,271.31 L669.61,271.31 L670.08,271.31 L670.56,271.31 L671.04,271.31 L671.52,271.31 L672.00,271.31 L672.47,271.31 L672.95,271.31 L673.43,271.31 L673.91,271.31 L674.39,271.31 L674.86,271.31 L675.34,271.31 L675.82,271.31 L676.30,271.31 L676.78,271.31 L677.25,271.31 L677.73,271.31 L678.21,271.31 L678.69,271.31 L679.17,271.31 L679.64,271.31 L680.12,271.31 L680.60,271.31" fill="none" stroke="#0072bd" stroke-width="2.1" stroke-linejoin="round" />
<path d="M394.30,400.20 L394.78,400.19 L395.26,400.18 L395.73,400.15 L396.21,400.11 L396.69,400.06 L397.17,400.00 L397.65,399.93 L398.12,399.85 L398.60,399.76 L399.08,399.66 L399.56,399.55 L400.04,399.43 L400.51,399.30 L400.99,399.16 L401.47,399.00 L401.95,398.84 L402.43,398.67 L402.90,398.50 L403.38,398.31 L403.86,398.11 L404.34,397.90 L404.82,397.69 L405.29,397.47 L405.77,397.24 L406.25,397.00 L406.73,396.75 L407.21,396.49 L407.68,396.23 L408.16,395.96 L408.64,395.68 L409.12,395.40 L409.59,395.11 L410.07,394.81 L410.55,394.50 L411.03,394.19 L411.51,393.87 L411.98,393.55 L412.46,393.22 L412.94,392.88 L413.42,392.54 L413.90,392.19 L414.37,391.84 L414.85,391.48 L415.33,391.12 L415.81,390.75 L416.29,390.38 L416.76,390.00 L417.24,389.62 L417.72,389.23 L418.20,388.84 L418.68,388.45 L419.15,388.05 L419.63,387.65 L420.11,387.25 L420.59,386.84 L421.07,386.43 L421.54,386.01 L422.02,385.60 L422.50,385.18 L422.98,384.76 L423.46,384.33 L423.93,383.91 L424.41,383.48 L424.89,383.05 L425.37,382.61 L425.85,382.18 L426.32,381.74 L426.80,381.31 L427.28,380.87 L427.76,380.43 L428.24,379.99 L428.71,379.54 L429.19,379.10 L429.67,378.66 L430.15,378.21 L430.63,377.77 L431.10,377.32 L431.58,376.87 L432.06,376.43 L432.54,375.98 L433.02,375.53 L433.49,375.09 L433.97,374.64 L434.45,374.19 L434.93,373.75 L435.40,373.30 L435.88,372.86 L436.36,372.41 L436.84,371.97 L437.32,371.53 L437.79,371.08 L438.27,370.64 L438.75,370.20 L439.23,369.76 L439.71,369.32 L440.18,368.88 L440.66,368.45 L441.14,368.01 L441.62,367.58 L442.10,367.15 L442.57,366.71 L443.05,366.29 L443.53,365.86 L444.01,365.43 L444.49,365.01 L444.96,364.58 L445.44,364.16 L445.92,363.74 L446.40,363.33 L446.88,362.91 L447.35,362.50 L447.83,362.09 L448.31,361.68 L448.79,361.27 L449.27,360.86 L449.74,360.46 L450.22,360.06 L450.70,359.66 L451.18,359.26 L451.66,358.87 L452.13,358.48 L452.61,358.09 L453.09,357.70 L453.57,357.32 L454.05,356.93 L454.52,356.55 L455.00,356.18 L455.48,355.80 L455.96,355.43 L456.44,355.06 L456.91,354.69 L457.39,354.33 L457.87,353.96 L458.35,353.60 L458.83,353.25 L459.30,352.89 L459.78,352.54 L460.26,352.19 L460.74,351.84 L461.21,351.50 L461.69,351.16 L462.17,350.82 L462.65,350.48 L463.13,350.15 L463.60,349.82 L464.08,349.49 L464.56,349.16 L465.04,348.84 L465.52,348.52 L465.99,348.20 L466.47,347.89 L466.95,347.58 L467.43,347.27 L467.91,346.96 L468.38,346.66 L468.86,346.36 L469.34,346.06 L469.82,345.76 L470.30,345.47 L470.77,345.18 L471.25,344.89 L471.73,344.60 L472.21,344.32 L472.69,344.04 L473.16,343.76 L473.64,343.49 L474.12,343.22 L474.60,342.95 L475.08,342.68 L475.55,342.42 L476.03,342.15 L476.51,341.90 L476.99,341.64 L477.47,341.38 L477.94,341.13 L478.42,340.88 L478.90,340.64 L479.38,340.39 L479.86,340.15 L480.33,339.91 L480.81,339.68 L481.29,339.44 L481.77,339.21 L482.25,338.98 L482.72,338.75 L483.20,338.53 L483.68,338.31 L484.16,338.09 L484.64,337.87 L485.11,337.65 L485.59,337.44 L486.07,337.23 L486.55,337.02 L487.02,336.82 L487.50,336.61 L487.98,336.41 L488.46,336.21 L488.94,336.02 L489.41,335.82 L489.89,335.63 L490.37,335.44 L490.85,335.25 L491.33,335.06 L491.80,334.88 L492.28,334.70 L492.76,334.52 L493.24,334.34 L493.72,334.16 L494.19,333.99 L494.67,333.82 L495.15,333.65 L495.63,333.48 L496.11,333.32 L496.58,333.15 L497.06,332.99 L497.54,332.83 L498.02,332.67 L498.50,332.52 L498.97,332.36 L499.45,332.21 L499.93,332.06 L500.41,331.91 L500.89,331.76 L501.36,331.62 L501.84,331.47 L502.32,331.33 L502.80,331.19 L503.28,331.05 L503.75,330.92 L504.23,330.78 L504.71,330.65 L505.19,330.52 L505.67,330.39 L506.14,330.26 L506.62,330.13 L507.10,330.01 L507.58,329.88 L508.06,329.76 L508.53,329.64 L509.01,329.52 L509.49,329.41 L509.97,329.29 L510.45,329.18 L510.92,329.06 L511.40,328.95 L511.88,328.84 L512.36,328.73 L512.83,328.62 L513.31,328.52 L513.79,328.41 L514.27,328.31 L514.75,328.21 L515.22,328.11 L515.70,328.01 L516.18,327.91 L516.66,327.82 L517.14,327.72 L517.61,327.63 L518.09,327.53 L518.57,327.44 L519.05,327.35 L519.53,327.26 L520.00,327.17 L520.48,327.09 L520.96,327.00 L521.44,326.92 L521.92,326.83 L522.39,326.75 L522.87,326.67 L523.35,326.59 L523.83,326.51 L524.31,326.43 L524.78,326.36 L525.26,326.28 L525.74,326.21 L526.22,326.13 L526.70,326.06 L527.17,325.99 L527.65,325.92 L528.13,325.85 L528.61,325.78 L529.09,325.71 L529.56,325.64 L530.04,325.58 L530.52,325.51 L531.00,325.45 L531.48,325.39 L531.95,325.32 L532.43,325.26 L532.91,325.20 L533.39,325.14 L533.87,325.08 L534.34,325.02 L534.82,324.97 L535.30,324.91 L535.78,324.86 L536.26,324.80 L536.73,324.75 L537.21,324.69 L537.69,324.64 L538.17,324.59 L538.64,324.54 L539.12,324.49 L539.60,324.44 L540.08,324.39 L540.56,324.34 L541.03,324.29 L541.51,324.25 L541.99,324.20 L542.47,324.15 L542.95,324.11 L543.42,324.06 L543.90,324.02 L544.38,323.98 L544.86,323.94 L545.34,323.89 L545.81,323.85 L546.29,323.81 L546.77,323.77 L547.25,323.73 L547.73,323.69 L548.20,323.66 L548.68,323.62 L549.16,323.58 L549.64,323.54 L550.12,323.51 L550.59,323.47 L551.07,323.44 L551.55,323.40 L552.03,323.37 L552.51,323.34 L552.98,323.30 L553.46,323.27 L553.94,323.24 L554.42,323.21 L554.90,323.18 L555.37,323.15 L555.85,323.12 L556.33,323.09 L556.81,323.06 L557.29,323.03 L557.76,323.00 L558.24,322.97 L558.72,322.94 L559.20,322.92 L559.68,322.89 L560.15,322.86 L560.63,322.84 L561.11,322.81 L561.59,322.79 L562.07,322.76 L562.54,322.74 L563.02,322.71 L563.50,322.69 L563.98,322.67 L564.45,322.64 L564.93,322.62 L565.41,322.60 L565.89,322.58 L566.37,322.56 L566.84,322.53 L567.32,322.51 L567.80,322.49 L568.28,322.47 L568.76,322.45 L569.23,322.43 L569.71,322.41 L570.19,322.39 L570.67,322.38 L571.15,322.36 L571.62,322.34 L572.10,322.32 L572.58,322.30 L573.06,322.29 L573.54,322.27 L574.01,322.25 L574.49,322.24 L574.97,322.22 L575.45,322.20 L575.93,322.19 L576.40,322.17 L576.88,322.16 L577.36,322.14 L577.84,322.13 L578.32,322.11 L578.79,322.10 L579.27,322.08 L579.75,322.07 L580.23,322.06 L580.71,322.04 L581.18,322.03 L581.66,322.02 L582.14,322.00 L582.62,321.99 L583.10,321.98 L583.57,321.97 L584.05,321.95 L584.53,321.94 L585.01,321.93 L585.49,321.92 L585.96,321.91 L586.44,321.90 L586.92,321.88 L587.40,321.87 L587.88,321.86 L588.35,321.85 L588.83,321.84 L589.31,321.83 L589.79,321.82 L590.26,321.81 L590.74,321.80 L591.22,321.79 L591.70,321.78 L592.18,321.77 L592.65,321.77 L593.13,321.76 L593.61,321.75 L594.09,321.74 L594.57,321.73 L595.04,321.72 L595.52,321.71 L596.00,321.71 L596.48,321.70 L596.96,321.69 L597.43,321.68 L597.91,321.68 L598.39,321.67 L598.87,321.66 L599.35,321.65 L599.82,321.65 L600.30,321.64 L600.78,321.63 L601.26,321.63 L601.74,321.62 L602.21,321.61 L602.69,321.61 L603.17,321.60 L603.65,321.59 L604.13,321.59 L604.60,321.58 L605.08,321.57 L605.56,321.57 L606.04,321.56 L606.52,321.56 L606.99,321.55 L607.47,321.55 L607.95,321.54 L608.43,321.54 L608.91,321.53 L609.38,321.53 L609.86,321.52 L610.34,321.52 L610.82,321.51 L611.30,321.51 L611.77,321.50 L612.25,321.50 L612.73,321.49 L613.21,321.49 L613.69,321.48 L614.16,321.48 L614.64,321.47 L615.12,321.47 L615.60,321.47 L616.07,321.46 L616.55,321.46 L617.03,321.45 L617.51,321.45 L617.99,321.45 L618.46,321.44 L618.94,321.44 L619.42,321.44 L619.90,321.43 L620.38,321.43 L620.85,321.42 L621.33,321.42 L621.81,321.42 L622.29,321.41 L622.77,321.41 L623.24,321.41 L623.72,321.41 L624.20,321.40 L624.68,321.40 L625.16,321.40 L625.63,321.39 L626.11,321.39 L626.59,321.39 L627.07,321.38 L627.55,321.38 L628.02,321.38 L628.50,321.38 L628.98,321.37 L629.46,321.37 L629.94,321.37 L630.41,321.37 L630.89,321.36 L631.37,321.36 L631.85,321.36 L632.33,321.36 L632.80,321.36 L633.28,321.35 L633.76,321.35 L634.24,321.35 L634.72,321.35 L635.19,321.34 L635.67,321.34 L636.15,321.34 L636.63,321.34 L637.11,321.34 L637.58,321.33 L638.06,321.33 L638.54,321.33 L639.02,321.33 L639.50,321.33 L639.97,321.33 L640.45,321.32 L640.93,321.32 L641.41,321.32 L641.88,321.32 L642.36,321.32 L642.84,321.32 L643.32,321.31 L643.80,321.31 L644.27,321.31 L644.75,321.31 L645.23,321.31 L645.71,321.31 L646.19,321.31 L646.66,321.30 L647.14,321.30 L647.62,321.30 L648.10,321.30 L648.58,321.30 L649.05,321.30 L649.53,321.30 L650.01,321.29 L650.49,321.29 L650.97,321.29 L651.44,321.29 L651.92,321.29 L652.40,321.29 L652.88,321.29 L653.36,321.29 L653.83,321.29 L654.31,321.28 L654.79,321.28 L655.27,321.28 L655.75,321.28 L656.22,321.28 L656.70,321.28 L657.18,321.28 L657.66,321.28 L658.14,321.28 L658.61,321.28 L659.09,321.28 L659.57,321.27 L660.05,321.27 L660.53,321.27 L661.00,321.27 L661.48,321.27 L661.96,321.27 L662.44,321.27 L662.92,321.27 L663.39,321.27 L663.87,321.27 L664.35,321.27 L664.83,321.27 L665.31,321.26 L665.78,321.26 L666.26,321.26 L666.74,321.26 L667.22,321.26 L667.69,321.26 L668.17,321.26 L668.65,321.26 L669.13,321.26 L669.61,321.26 L670.08,321.26 L670.56,321.26 L671.04,321.26 L671.52,321.26 L672.00,321.26 L672.47,321.26 L672.95,321.26 L673.43,321.25 L673.91,321.25 L674.39,321.25 L674.86,321.25 L675.34,321.25 L675.82,321.25 L676.30,321.25 L676.78,321.25 L677.25,321.25 L677.73,321.25 L678.21,321.25 L678.69,321.25 L679.17,321.25 L679.64,321.25 L680.12,321.25 L680.60,321.25" fill="none" stroke="#d95319" stroke-width="2.1" stroke-linejoin="round" />
<path d="M394.30,400.20 L394.78,399.60 L395.26,399.04 L395.73,398.49 L396.21,397.95 L396.69,397.42 L397.17,396.90 L397.65,396.39 L398.12,395.88 L398.60,395.38 L399.08,394.88 L399.56,394.39 L400.04,393.91 L400.51,393.43 L400.99,392.96 L401.47,392.49 L401.95,392.03 L402.43,391.57 L402.90,391.12 L403.38,390.67 L403.86,390.22 L404.34,389.78 L404.82,389.35 L405.29,388.91 L405.77,388.49 L406.25,388.06 L406.73,387.64 L407.21,387.23 L407.68,386.82 L408.16,386.41 L408.64,386.00 L409.12,385.60 L409.59,385.21 L410.07,384.82 L410.55,384.43 L411.03,384.04 L411.51,383.66 L411.98,383.28 L412.46,382.90 L412.94,382.53 L413.42,382.16 L413.90,381.80 L414.37,381.44 L414.85,381.08 L415.33,380.72 L415.81,380.37 L416.29,380.02 L416.76,379.67 L417.24,379.33 L417.72,378.99 L418.20,378.65 L418.68,378.32 L419.15,377.98 L419.63,377.65 L420.11,377.33 L420.59,377.01 L421.07,376.69 L421.54,376.37 L422.02,376.05 L422.50,375.74 L422.98,375.43 L423.46,375.12 L423.93,374.82 L424.41,374.52 L424.89,374.22 L425.37,373.92 L425.85,373.63 L426.32,373.34 L426.80,373.05 L427.28,372.76 L427.76,372.48 L428.24,372.19 L428.71,371.91 L429.19,371.64 L429.67,371.36 L430.15,371.09 L430.63,370.82 L431.10,370.55 L431.58,370.29 L432.06,370.02 L432.54,369.76 L433.02,369.50 L433.49,369.25 L433.97,368.99 L434.45,368.74 L434.93,368.49 L435.40,368.24 L435.88,367.99 L436.36,367.75 L436.84,367.50 L437.32,367.26 L437.79,367.03 L438.27,366.79 L438.75,366.55 L439.23,366.32 L439.71,366.09 L440.18,365.86 L440.66,365.64 L441.14,365.41 L441.62,365.19 L442.10,364.97 L442.57,364.75 L443.05,364.53 L443.53,364.31 L444.01,364.10 L444.49,363.89 L444.96,363.67 L445.44,363.47 L445.92,363.26 L446.40,363.05 L446.88,362.85 L447.35,362.65 L447.83,362.45 L448.31,362.25 L448.79,362.05 L449.27,361.85 L449.74,361.66 L450.22,361.47 L450.70,361.27 L451.18,361.09 L451.66,360.90 L452.13,360.71 L452.61,360.53 L453.09,360.34 L453.57,360.16 L454.05,359.98 L454.52,359.80 L455.00,359.62 L455.48,359.45 L455.96,359.27 L456.44,359.10 L456.91,358.93 L457.39,358.76 L457.87,358.59 L458.35,358.42 L458.83,358.25 L459.30,358.09 L459.78,357.92 L460.26,357.76 L460.74,357.60 L461.21,357.44 L461.69,357.28 L462.17,357.12 L462.65,356.97 L463.13,356.81 L463.60,356.66 L464.08,356.51 L464.56,356.35 L465.04,356.20 L465.52,356.06 L465.99,355.91 L466.47,355.76 L466.95,355.62 L467.43,355.47 L467.91,355.33 L468.38,355.19 L468.86,355.05 L469.34,354.91 L469.82,354.77 L470.30,354.63 L470.77,354.50 L471.25,354.36 L471.73,354.23 L472.21,354.09 L472.69,353.96 L473.16,353.83 L473.64,353.70 L474.12,353.57 L474.60,353.44 L475.08,353.32 L475.55,353.19 L476.03,353.07 L476.51,352.94 L476.99,352.82 L477.47,352.70 L477.94,352.58 L478.42,352.46 L478.90,352.34 L479.38,352.22 L479.86,352.10 L480.33,351.99 L480.81,351.87 L481.29,351.76 L481.77,351.64 L482.25,351.53 L482.72,351.42 L483.20,351.31 L483.68,351.20 L484.16,351.09 L484.64,350.98 L485.11,350.87 L485.59,350.77 L486.07,350.66 L486.55,350.56 L487.02,350.45 L487.50,350.35 L487.98,350.25 L488.46,350.14 L488.94,350.04 L489.41,349.94 L489.89,349.84 L490.37,349.75 L490.85,349.65 L491.33,349.55 L491.80,349.46 L492.28,349.36 L492.76,349.27 L493.24,349.17 L493.72,349.08 L494.19,348.99 L494.67,348.89 L495.15,348.80 L495.63,348.71 L496.11,348.62 L496.58,348.53 L497.06,348.45 L497.54,348.36 L498.02,348.27 L498.50,348.19 L498.97,348.10 L499.45,348.02 L499.93,347.93 L500.41,347.85 L500.89,347.77 L501.36,347.68 L501.84,347.60 L502.32,347.52 L502.80,347.44 L503.28,347.36 L503.75,347.28 L504.23,347.20 L504.71,347.13 L505.19,347.05 L505.67,346.97 L506.14,346.90 L506.62,346.82 L507.10,346.75 L507.58,346.67 L508.06,346.60 L508.53,346.53 L509.01,346.45 L509.49,346.38 L509.97,346.31 L510.45,346.24 L510.92,346.17 L511.40,346.10 L511.88,346.03 L512.36,345.96 L512.83,345.89 L513.31,345.83 L513.79,345.76 L514.27,345.69 L514.75,345.63 L515.22,345.56 L515.70,345.50 L516.18,345.43 L516.66,345.37 L517.14,345.30 L517.61,345.24 L518.09,345.18 L518.57,345.12 L519.05,345.05 L519.53,344.99 L520.00,344.93 L520.48,344.87 L520.96,344.81 L521.44,344.75 L521.92,344.70 L522.39,344.64 L522.87,344.58 L523.35,344.52 L523.83,344.46 L524.31,344.41 L524.78,344.35 L525.26,344.30 L525.74,344.24 L526.22,344.19 L526.70,344.13 L527.17,344.08 L527.65,344.02 L528.13,343.97 L528.61,343.92 L529.09,343.87 L529.56,343.82 L530.04,343.76 L530.52,343.71 L531.00,343.66 L531.48,343.61 L531.95,343.56 L532.43,343.51 L532.91,343.46 L533.39,343.41 L533.87,343.37 L534.34,343.32 L534.82,343.27 L535.30,343.22 L535.78,343.18 L536.26,343.13 L536.73,343.08 L537.21,343.04 L537.69,342.99 L538.17,342.95 L538.64,342.90 L539.12,342.86 L539.60,342.81 L540.08,342.77 L540.56,342.73 L541.03,342.68 L541.51,342.64 L541.99,342.60 L542.47,342.56 L542.95,342.51 L543.42,342.47 L543.90,342.43 L544.38,342.39 L544.86,342.35 L545.34,342.31 L545.81,342.27 L546.29,342.23 L546.77,342.19 L547.25,342.15 L547.73,342.11 L548.20,342.08 L548.68,342.04 L549.16,342.00 L549.64,341.96 L550.12,341.93 L550.59,341.89 L551.07,341.85 L551.55,341.82 L552.03,341.78 L552.51,341.74 L552.98,341.71 L553.46,341.67 L553.94,341.64 L554.42,341.60 L554.90,341.57 L555.37,341.53 L555.85,341.50 L556.33,341.47 L556.81,341.43 L557.29,341.40 L557.76,341.37 L558.24,341.33 L558.72,341.30 L559.20,341.27 L559.68,341.24 L560.15,341.21 L560.63,341.18 L561.11,341.14 L561.59,341.11 L562.07,341.08 L562.54,341.05 L563.02,341.02 L563.50,340.99 L563.98,340.96 L564.45,340.93 L564.93,340.90 L565.41,340.87 L565.89,340.85 L566.37,340.82 L566.84,340.79 L567.32,340.76 L567.80,340.73 L568.28,340.70 L568.76,340.68 L569.23,340.65 L569.71,340.62 L570.19,340.60 L570.67,340.57 L571.15,340.54 L571.62,340.52 L572.10,340.49 L572.58,340.46 L573.06,340.44 L573.54,340.41 L574.01,340.39 L574.49,340.36 L574.97,340.34 L575.45,340.31 L575.93,340.29 L576.40,340.26 L576.88,340.24 L577.36,340.21 L577.84,340.19 L578.32,340.17 L578.79,340.14 L579.27,340.12 L579.75,340.10 L580.23,340.07 L580.71,340.05 L581.18,340.03 L581.66,340.01 L582.14,339.98 L582.62,339.96 L583.10,339.94 L583.57,339.92 L584.05,339.90 L584.53,339.88 L585.01,339.85 L585.49,339.83 L585.96,339.81 L586.44,339.79 L586.92,339.77 L587.40,339.75 L587.88,339.73 L588.35,339.71 L588.83,339.69 L589.31,339.67 L589.79,339.65 L590.26,339.63 L590.74,339.61 L591.22,339.59 L591.70,339.57 L592.18,339.55 L592.65,339.54 L593.13,339.52 L593.61,339.50 L594.09,339.48 L594.57,339.46 L595.04,339.44 L595.52,339.43 L596.00,339.41 L596.48,339.39 L596.96,339.37 L597.43,339.36 L597.91,339.34 L598.39,339.32 L598.87,339.30 L599.35,339.29 L599.82,339.27 L600.30,339.25 L600.78,339.24 L601.26,339.22 L601.74,339.20 L602.21,339.19 L602.69,339.17 L603.17,339.16 L603.65,339.14 L604.13,339.12 L604.60,339.11 L605.08,339.09 L605.56,339.08 L606.04,339.06 L606.52,339.05 L606.99,339.03 L607.47,339.02 L607.95,339.00 L608.43,338.99 L608.91,338.97 L609.38,338.96 L609.86,338.95 L610.34,338.93 L610.82,338.92 L611.30,338.90 L611.77,338.89 L612.25,338.88 L612.73,338.86 L613.21,338.85 L613.69,338.83 L614.16,338.82 L614.64,338.81 L615.12,338.80 L615.60,338.78 L616.07,338.77 L616.55,338.76 L617.03,338.74 L617.51,338.73 L617.99,338.72 L618.46,338.71 L618.94,338.69 L619.42,338.68 L619.90,338.67 L620.38,338.66 L620.85,338.64 L621.33,338.63 L621.81,338.62 L622.29,338.61 L622.77,338.60 L623.24,338.59 L623.72,338.57 L624.20,338.56 L624.68,338.55 L625.16,338.54 L625.63,338.53 L626.11,338.52 L626.59,338.51 L627.07,338.50 L627.55,338.49 L628.02,338.48 L628.50,338.46 L628.98,338.45 L629.46,338.44 L629.94,338.43 L630.41,338.42 L630.89,338.41 L631.37,338.40 L631.85,338.39 L632.33,338.38 L632.80,338.37 L633.28,338.36 L633.76,338.35 L634.24,338.34 L634.72,338.33 L635.19,338.32 L635.67,338.31 L636.15,338.30 L636.63,338.30 L637.11,338.29 L637.58,338.28 L638.06,338.27 L638.54,338.26 L639.02,338.25 L639.50,338.24 L639.97,338.23 L640.45,338.22 L640.93,338.21 L641.41,338.21 L641.88,338.20 L642.36,338.19 L642.84,338.18 L643.32,338.17 L643.80,338.16 L644.27,338.15 L644.75,338.15 L645.23,338.14 L645.71,338.13 L646.19,338.12 L646.66,338.11 L647.14,338.11 L647.62,338.10 L648.10,338.09 L648.58,338.08 L649.05,338.08 L649.53,338.07 L650.01,338.06 L650.49,338.05 L650.97,338.05 L651.44,338.04 L651.92,338.03 L652.40,338.02 L652.88,338.02 L653.36,338.01 L653.83,338.00 L654.31,337.99 L654.79,337.99 L655.27,337.98 L655.75,337.97 L656.22,337.97 L656.70,337.96 L657.18,337.95 L657.66,337.95 L658.14,337.94 L658.61,337.93 L659.09,337.93 L659.57,337.92 L660.05,337.91 L660.53,337.91 L661.00,337.90 L661.48,337.89 L661.96,337.89 L662.44,337.88 L662.92,337.88 L663.39,337.87 L663.87,337.86 L664.35,337.86 L664.83,337.85 L665.31,337.85 L665.78,337.84 L666.26,337.83 L666.74,337.83 L667.22,337.82 L667.69,337.82 L668.17,337.81 L668.65,337.81 L669.13,337.80 L669.61,337.79 L670.08,337.79 L670.56,337.78 L671.04,337.78 L671.52,337.77 L672.00,337.77 L672.47,337.76 L672.95,337.76 L673.43,337.75 L673.91,337.75 L674.39,337.74 L674.86,337.74 L675.34,337.73 L675.82,337.73 L676.30,337.72 L676.78,337.72 L677.25,337.71 L677.73,337.71 L678.21,337.70 L678.69,337.70 L679.17,337.69 L679.64,337.69 L680.12,337.68 L680.60,337.68" fill="none" stroke="#edb120" stroke-width="2.1" stroke-linejoin="round" />
<path d="M394.30,400.20 L394.78,399.69 L395.26,399.17 L395.73,398.66 L396.21,398.15 L396.69,397.64 L397.17,397.13 L397.65,396.63 L398.12,396.13 L398.60,395.63 L399.08,395.14 L399.56,394.65 L400.04,394.16 L400.51,393.68 L400.99,393.20 L401.47,392.72 L401.95,392.25 L402.43,391.78 L402.90,391.32 L403.38,390.86 L403.86,390.40 L404.34,389.94 L404.82,389.49 L405.29,389.05 L405.77,388.60 L406.25,388.16 L406.73,387.72 L407.21,387.29 L407.68,386.86 L408.16,386.43 L408.64,386.01 L409.12,385.59 L409.59,385.17 L410.07,384.76 L410.55,384.34 L411.03,383.94 L411.51,383.53 L411.98,383.13 L412.46,382.73 L412.94,382.34 L413.42,381.95 L413.90,381.56 L414.37,381.17 L414.85,380.79 L415.33,380.41 L415.81,380.03 L416.29,379.66 L416.76,379.29 L417.24,378.92 L417.72,378.56 L418.20,378.20 L418.68,377.84 L419.15,377.48 L419.63,377.13 L420.11,376.78 L420.59,376.43 L421.07,376.09 L421.54,375.74 L422.02,375.41 L422.50,375.07 L422.98,374.74 L423.46,374.40 L423.93,374.08 L424.41,373.75 L424.89,373.43 L425.37,373.11 L425.85,372.79 L426.32,372.47 L426.80,372.16 L427.28,371.85 L427.76,371.54 L428.24,371.24 L428.71,370.93 L429.19,370.63 L429.67,370.34 L430.15,370.04 L430.63,369.75 L431.10,369.46 L431.58,369.17 L432.06,368.88 L432.54,368.60 L433.02,368.32 L433.49,368.04 L433.97,367.76 L434.45,367.49 L434.93,367.21 L435.40,366.94 L435.88,366.67 L436.36,366.41 L436.84,366.15 L437.32,365.88 L437.79,365.62 L438.27,365.37 L438.75,365.11 L439.23,364.86 L439.71,364.61 L440.18,364.36 L440.66,364.11 L441.14,363.87 L441.62,363.62 L442.10,363.38 L442.57,363.14 L443.05,362.91 L443.53,362.67 L444.01,362.44 L444.49,362.21 L444.96,361.98 L445.44,361.75 L445.92,361.52 L446.40,361.30 L446.88,361.08 L447.35,360.86 L447.83,360.64 L448.31,360.42 L448.79,360.21 L449.27,359.99 L449.74,359.78 L450.22,359.57 L450.70,359.36 L451.18,359.16 L451.66,358.95 L452.13,358.75 L452.61,358.55 L453.09,358.35 L453.57,358.15 L454.05,357.96 L454.52,357.76 L455.00,357.57 L455.48,357.38 L455.96,357.19 L456.44,357.00 L456.91,356.81 L457.39,356.63 L457.87,356.44 L458.35,356.26 L458.83,356.08 L459.30,355.90 L459.78,355.72 L460.26,355.55 L460.74,355.37 L461.21,355.20 L461.69,355.02 L462.17,354.85 L462.65,354.68 L463.13,354.52 L463.60,354.35 L464.08,354.19 L464.56,354.02 L465.04,353.86 L465.52,353.70 L465.99,353.54 L466.47,353.38 L466.95,353.22 L467.43,353.07 L467.91,352.91 L468.38,352.76 L468.86,352.61 L469.34,352.46 L469.82,352.31 L470.30,352.16 L470.77,352.01 L471.25,351.86 L471.73,351.72 L472.21,351.58 L472.69,351.43 L473.16,351.29 L473.64,351.15 L474.12,351.01 L474.60,350.88 L475.08,350.74 L475.55,350.60 L476.03,350.47 L476.51,350.34 L476.99,350.20 L477.47,350.07 L477.94,349.94 L478.42,349.81 L478.90,349.69 L479.38,349.56 L479.86,349.43 L480.33,349.31 L480.81,349.19 L481.29,349.06 L481.77,348.94 L482.25,348.82 L482.72,348.70 L483.20,348.58 L483.68,348.47 L484.16,348.35 L484.64,348.23 L485.11,348.12 L485.59,348.00 L486.07,347.89 L486.55,347.78 L487.02,347.67 L487.50,347.56 L487.98,347.45 L488.46,347.34 L488.94,347.23 L489.41,347.13 L489.89,347.02 L490.37,346.92 L490.85,346.81 L491.33,346.71 L491.80,346.61 L492.28,346.51 L492.76,346.41 L493.24,346.31 L493.72,346.21 L494.19,346.11 L494.67,346.01 L495.15,345.92 L495.63,345.82 L496.11,345.72 L496.58,345.63 L497.06,345.54 L497.54,345.45 L498.02,345.35 L498.50,345.26 L498.97,345.17 L499.45,345.08 L499.93,344.99 L500.41,344.91 L500.89,344.82 L501.36,344.73 L501.84,344.65 L502.32,344.56 L502.80,344.48 L503.28,344.39 L503.75,344.31 L504.23,344.23 L504.71,344.15 L505.19,344.06 L505.67,343.98 L506.14,343.91 L506.62,343.83 L507.10,343.75 L507.58,343.67 L508.06,343.59 L508.53,343.52 L509.01,343.44 L509.49,343.37 L509.97,343.29 L510.45,343.22 L510.92,343.14 L511.40,343.07 L511.88,343.00 L512.36,342.93 L512.83,342.86 L513.31,342.79 L513.79,342.72 L514.27,342.65 L514.75,342.58 L515.22,342.51 L515.70,342.44 L516.18,342.38 L516.66,342.31 L517.14,342.24 L517.61,342.18 L518.09,342.11 L518.57,342.05 L519.05,341.99 L519.53,341.92 L520.00,341.86 L520.48,341.80 L520.96,341.74 L521.44,341.68 L521.92,341.62 L522.39,341.56 L522.87,341.50 L523.35,341.44 L523.83,341.38 L524.31,341.32 L524.78,341.26 L525.26,341.21 L525.74,341.15 L526.22,341.09 L526.70,341.04 L527.17,340.98 L527.65,340.93 L528.13,340.87 L528.61,340.82 L529.09,340.77 L529.56,340.71 L530.04,340.66 L530.52,340.61 L531.00,340.56 L531.48,340.51 L531.95,340.46 L532.43,340.41 L532.91,340.36 L533.39,340.31 L533.87,340.26 L534.34,340.21 L534.82,340.16 L535.30,340.11 L535.78,340.06 L536.26,340.02 L536.73,339.97 L537.21,339.92 L537.69,339.88 L538.17,339.83 L538.64,339.79 L539.12,339.74 L539.60,339.70 L540.08,339.65 L540.56,339.61 L541.03,339.57 L541.51,339.52 L541.99,339.48 L542.47,339.44 L542.95,339.40 L543.42,339.36 L543.90,339.31 L544.38,339.27 L544.86,339.23 L545.34,339.19 L545.81,339.15 L546.29,339.11 L546.77,339.07 L547.25,339.04 L547.73,339.00 L548.20,338.96 L548.68,338.92 L549.16,338.88 L549.64,338.85 L550.12,338.81 L550.59,338.77 L551.07,338.74 L551.55,338.70 L552.03,338.66 L552.51,338.63 L552.98,338.59 L553.46,338.56 L553.94,338.52 L554.42,338.49 L554.90,338.46 L555.37,338.42 L555.85,338.39 L556.33,338.36 L556.81,338.32 L557.29,338.29 L557.76,338.26 L558.24,338.23 L558.72,338.19 L559.20,338.16 L559.68,338.13 L560.15,338.10 L560.63,338.07 L561.11,338.04 L561.59,338.01 L562.07,337.98 L562.54,337.95 L563.02,337.92 L563.50,337.89 L563.98,337.86 L564.45,337.83 L564.93,337.80 L565.41,337.77 L565.89,337.75 L566.37,337.72 L566.84,337.69 L567.32,337.66 L567.80,337.64 L568.28,337.61 L568.76,337.58 L569.23,337.56 L569.71,337.53 L570.19,337.50 L570.67,337.48 L571.15,337.45 L571.62,337.43 L572.10,337.40 L572.58,337.38 L573.06,337.35 L573.54,337.33 L574.01,337.30 L574.49,337.28 L574.97,337.26 L575.45,337.23 L575.93,337.21 L576.40,337.19 L576.88,337.16 L577.36,337.14 L577.84,337.12 L578.32,337.09 L578.79,337.07 L579.27,337.05 L579.75,337.03 L580.23,337.01 L580.71,336.98 L581.18,336.96 L581.66,336.94 L582.14,336.92 L582.62,336.90 L583.10,336.88 L583.57,336.86 L584.05,336.84 L584.53,336.82 L585.01,336.80 L585.49,336.78 L585.96,336.76 L586.44,336.74 L586.92,336.72 L587.40,336.70 L587.88,336.68 L588.35,336.66 L588.83,336.64 L589.31,336.62 L589.79,336.61 L590.26,336.59 L590.74,336.57 L591.22,336.55 L591.70,336.53 L592.18,336.52 L592.65,336.50 L593.13,336.48 L593.61,336.46 L594.09,336.45 L594.57,336.43 L595.04,336.41 L595.52,336.40 L596.00,336.38 L596.48,336.36 L596.96,336.35 L597.43,336.33 L597.91,336.31 L598.39,336.30 L598.87,336.28 L599.35,336.27 L599.82,336.25 L600.30,336.24 L600.78,336.22 L601.26,336.21 L601.74,336.19 L602.21,336.18 L602.69,336.16 L603.17,336.15 L603.65,336.13 L604.13,336.12 L604.60,336.10 L605.08,336.09 L605.56,336.08 L606.04,336.06 L606.52,336.05 L606.99,336.03 L607.47,336.02 L607.95,336.01 L608.43,335.99 L608.91,335.98 L609.38,335.97 L609.86,335.95 L610.34,335.94 L610.82,335.93 L611.30,335.92 L611.77,335.90 L612.25,335.89 L612.73,335.88 L613.21,335.87 L613.69,335.85 L614.16,335.84 L614.64,335.83 L615.12,335.82 L615.60,335.81 L616.07,335.80 L616.55,335.78 L617.03,335.77 L617.51,335.76 L617.99,335.75 L618.46,335.74 L618.94,335.73 L619.42,335.72 L619.90,335.71 L620.38,335.70 L620.85,335.68 L621.33,335.67 L621.81,335.66 L622.29,335.65 L622.77,335.64 L623.24,335.63 L623.72,335.62 L624.20,335.61 L624.68,335.60 L625.16,335.59 L625.63,335.58 L626.11,335.57 L626.59,335.56 L627.07,335.55 L627.55,335.54 L628.02,335.53 L628.50,335.53 L628.98,335.52 L629.46,335.51 L629.94,335.50 L630.41,335.49 L630.89,335.48 L631.37,335.47 L631.85,335.46 L632.33,335.45 L632.80,335.44 L633.28,335.44 L633.76,335.43 L634.24,335.42 L634.72,335.41 L635.19,335.40 L635.67,335.39 L636.15,335.39 L636.63,335.38 L637.11,335.37 L637.58,335.36 L638.06,335.35 L638.54,335.35 L639.02,335.34 L639.50,335.33 L639.97,335.32 L640.45,335.32 L640.93,335.31 L641.41,335.30 L641.88,335.29 L642.36,335.29 L642.84,335.28 L643.32,335.27 L643.80,335.26 L644.27,335.26 L644.75,335.25 L645.23,335.24 L645.71,335.24 L646.19,335.23 L646.66,335.22 L647.14,335.22 L647.62,335.21 L648.10,335.20 L648.58,335.20 L649.05,335.19 L649.53,335.18 L650.01,335.18 L650.49,335.17 L650.97,335.16 L651.44,335.16 L651.92,335.15 L652.40,335.15 L652.88,335.14 L653.36,335.13 L653.83,335.13 L654.31,335.12 L654.79,335.12 L655.27,335.11 L655.75,335.10 L656.22,335.10 L656.70,335.09 L657.18,335.09 L657.66,335.08 L658.14,335.08 L658.61,335.07 L659.09,335.06 L659.57,335.06 L660.05,335.05 L660.53,335.05 L661.00,335.04 L661.48,335.04 L661.96,335.03 L662.44,335.03 L662.92,335.02 L663.39,335.02 L663.87,335.01 L664.35,335.01 L664.83,335.00 L665.31,335.00 L665.78,334.99 L666.26,334.99 L666.74,334.98 L667.22,334.98 L667.69,334.97 L668.17,334.97 L668.65,334.96 L669.13,334.96 L669.61,334.96 L670.08,334.95 L670.56,334.95 L671.04,334.94 L671.52,334.94 L672.00,334.93 L672.47,334.93 L672.95,334.92 L673.43,334.92 L673.91,334.92 L674.39,334.91 L674.86,334.91 L675.34,334.90 L675.82,334.90 L676.30,334.90 L676.78,334.89 L677.25,334.89 L677.73,334.88 L678.21,334.88 L678.69,334.88 L679.17,334.87 L679.64,334.87 L680.12,334.86 L680.60,334.86" fill="none" stroke="#7e2f8e" stroke-width="2.1" stroke-linejoin="round" />
</g>
<text x="530.30" y="232.70" font-family="Liberation Serif, serif" font-size="18.5" fill="#111" text-anchor="start">(</text>
<text x="553.20" y="232.70" font-family="Liberation Serif, serif" font-size="18.5" fill="#111" text-anchor="end">)</text>
<text x="536.70" y="232.20" font-family="Liberation Serif, serif" font-size="16.2" font-weight="bold" fill="#111" text-anchor="start" textLength="10.00" lengthAdjust="spacingAndGlyphs">d</text>
<text x="518.40" y="427.90" font-family="Liberation Serif, serif" font-size="13.0" text-anchor="start" fill="#1a1a1a"  textLength="38.60" lengthAdjust="spacingAndGlyphs">Time <tspan font-style="italic">t</tspan></text>
<g transform="translate(364.7,393.0) rotate(-90)">
<text x="0.00" y="0.00" font-family="Liberation Serif, serif" font-size="13.0" text-anchor="start" fill="#1a1a1a"  textLength="141.20" lengthAdjust="spacingAndGlyphs">Number of persister cells</text>
</g>
<rect x="401.1" y="252.9" width="128.69999999999993" height="65.49999999999997" fill="#fff" stroke="#8f8f8f" stroke-width="0.8"/>
<path d="M402.90000000000003,261.60 h20.9" stroke="#0072bd" stroke-width="2.1" fill="none"/>
<text x="425.20" y="265.10" font-family="Liberation Serif, serif" font-size="13.2" text-anchor="start" fill="#1a1a1a"  textLength="96.70" lengthAdjust="spacingAndGlyphs">Constant <tspan font-style="italic">c</tspan> <tspan font-size="15.5" dy="1.5">=</tspan><tspan dy="-1.5"> </tspan>4.2</text>
<path d="M402.90000000000003,277.65 h20.9" stroke="#d95319" stroke-width="2.1" fill="none"/>
<text x="425.20" y="281.15" font-family="Liberation Serif, serif" font-size="13.2" text-anchor="start" fill="#1a1a1a"  textLength="81.40" lengthAdjust="spacingAndGlyphs">Linear <tspan font-style="italic">c&#x0304;</tspan> <tspan font-size="15.5" dy="1.5">=</tspan><tspan dy="-1.5"> </tspan>4.2</text>
<path d="M402.90000000000003,293.70 h20.9" stroke="#edb120" stroke-width="2.1" fill="none"/>
<text x="425.20" y="297.20" font-family="Liberation Serif, serif" font-size="13.2" text-anchor="start" fill="#1a1a1a"  textLength="102.80" lengthAdjust="spacingAndGlyphs">Constant <tspan font-style="italic">c</tspan> <tspan font-size="15.5" dy="1.5">=</tspan><tspan dy="-1.5"> </tspan>0.85</text>
<path d="M402.90000000000003,309.75 h20.9" stroke="#7e2f8e" stroke-width="2.1" fill="none"/>
<text x="425.20" y="313.25" font-family="Liberation Serif, serif" font-size="13.2" text-anchor="start" fill="#1a1a1a"  textLength="101.80" lengthAdjust="spacingAndGlyphs">Optimal (<tspan font-style="italic">T</tspan> <tspan font-size="15.5" dy="1.5">=</tspan><tspan dy="-1.5"> </tspan>10)</text>
</svg></body></html>
